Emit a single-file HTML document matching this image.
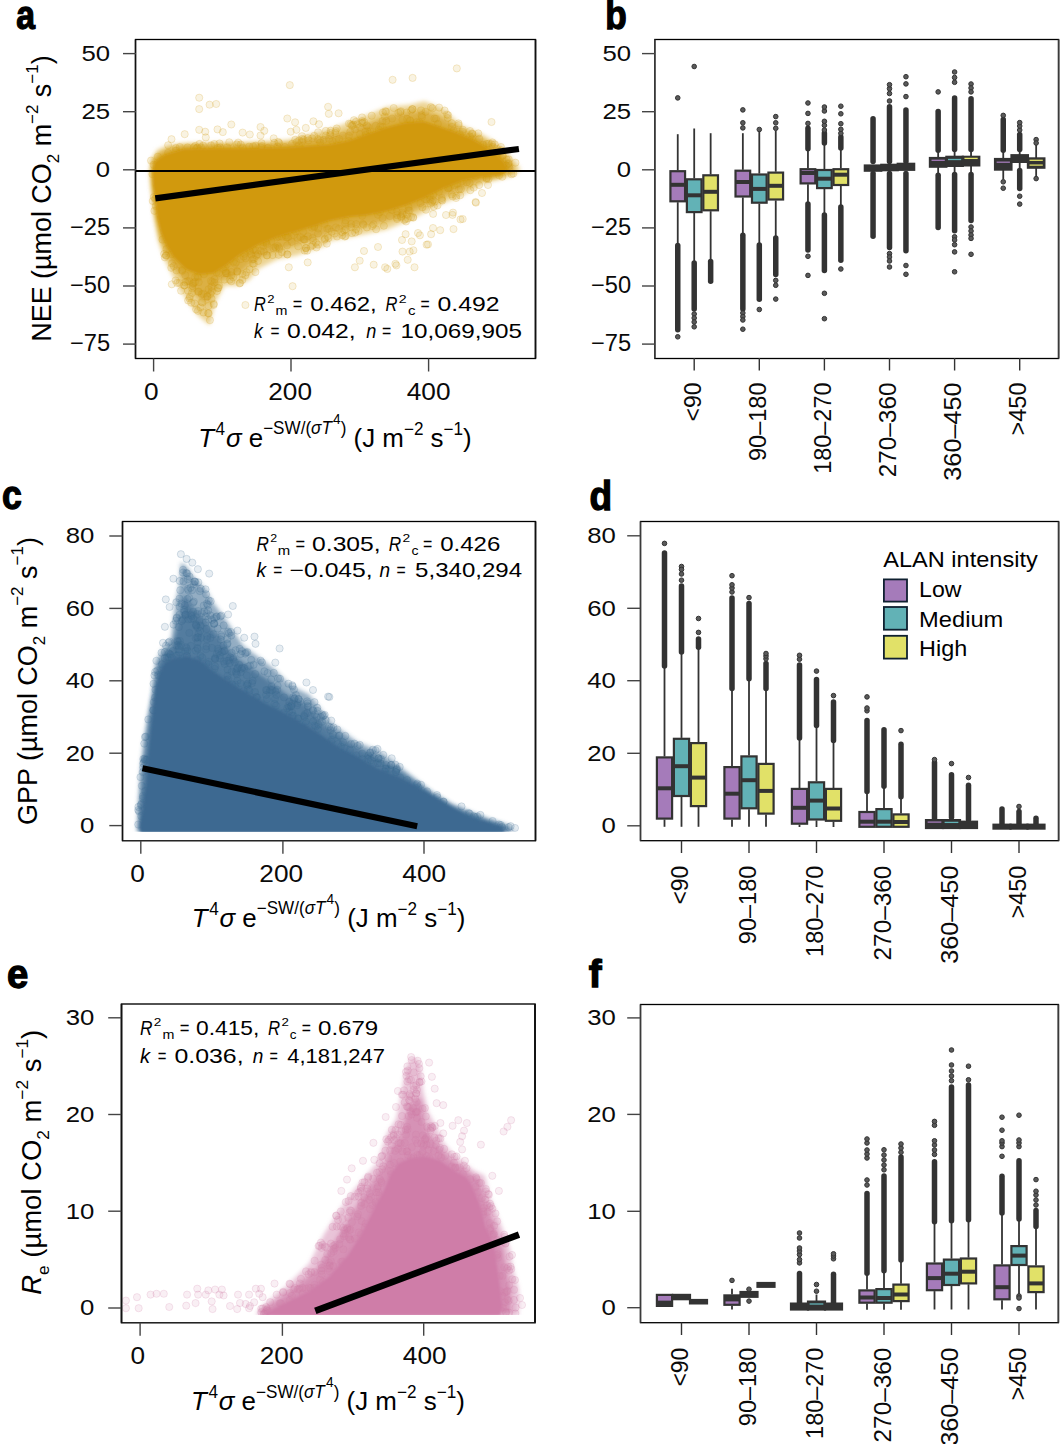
<!DOCTYPE html><html><head><meta charset="utf-8"><style>html,body{margin:0;padding:0;background:#fff;}svg{display:block;} text{font-family:"Liberation Sans",sans-serif;fill:#000;} .tk{fill:#0a0a0a;}</style></head><body><svg width="1060" height="1444" viewBox="0 0 1060 1444"><rect width="1060" height="1444" fill="#fff"/><defs>
<filter id="blur1" x="-5%" y="-5%" width="110%" height="110%"><feGaussianBlur stdDeviation="0.8"/></filter>
<filter id="blur2" x="-5%" y="-5%" width="110%" height="110%"><feGaussianBlur stdDeviation="2"/></filter>
<filter id="blur3" x="-10%" y="-10%" width="120%" height="120%"><feGaussianBlur stdDeviation="3"/></filter>
<clipPath id="ca"><rect x="136" y="39.3" width="399.5" height="318.7"/></clipPath>
<clipPath id="cc"><rect x="122.3" y="521.2" width="412.7" height="310.5"/></clipPath>
<clipPath id="ce"><rect x="121.2" y="1003.5" width="412.7" height="311.6"/></clipPath>
</defs>
<g clip-path="url(#ca)">
<polygon points="150,172 151,160 157,150 168,145 185,143 211.5,142.5 249.2,142 287,140 330,129 348.9,122.1 373.4,112.6 386.6,107 409.2,105.1 424.3,101.3 443.2,108.9 462.1,125.8 480.9,133.4 499.8,144.7 514.9,161.7 520.6,169.2 514.9,174.9 480.9,184.3 462.1,195.7 443.2,203.2 424.3,212.6 405.5,222.1 386.6,229.6 367.7,233.4 348.9,237.2 330,240.9 324.7,246 296.4,255.5 277.5,259.2 258.6,268.7 249.2,280 237.9,285.7 224.7,285.7 215.2,302.6 209.6,325.3 198.3,315.8 186.9,300.8 173.7,278.1 164.3,259.2 158,240 154,215 152,195" fill="#d1990f" fill-opacity="0.42" filter="url(#blur2)"/>
<polygon points="151.26,172 152.64,160.8 159.06,152.93 169.07,148.54 185.09,145.75 211.5,145.1 249.27,144.81 287.22,143.22 331.27,135.34 351.37,129.13 375.98,119.98 388.64,115.19 409.56,112.53 424.3,110.04 440.73,116.23 460.72,129.24 478.91,136.91 497.46,148.19 511.12,163.61 515.06,169.2 511.75,172.51 480.29,181.27 459.93,190.22 440.67,198.12 422.1,207.15 403.53,215.56 385.11,222 366.91,225.54 347.21,228.8 327.32,233.13 321.6,237 293.54,246.03 274.21,251.03 254.24,260.82 242.64,271.3 232.65,277.16 220.97,279.64 214.28,290.17 208.05,303.55 198.59,298.24 191.33,289.29 178.19,273.61 167.64,257.11 160.33,239.01 155.42,214.86 153.29,194.79" fill="#d1990f" fill-opacity="0.62" filter="url(#blur2)"/>
<g fill="#d1990f" fill-opacity="0.12" stroke="#d1990f" stroke-opacity="0.22" stroke-width="0.9">
<circle cx="286.07" cy="237.41" r="3.6"/>
<circle cx="382.9" cy="112.5" r="3.6"/>
<circle cx="400.2" cy="112.16" r="3.6"/>
<circle cx="197.48" cy="147.64" r="3.6"/>
<circle cx="179.51" cy="283.04" r="3.6"/>
<circle cx="303.2" cy="231.85" r="3.6"/>
<circle cx="385.34" cy="111.24" r="3.6"/>
<circle cx="285.76" cy="235.48" r="3.6"/>
<circle cx="410.29" cy="120.93" r="3.6"/>
<circle cx="469.91" cy="136.57" r="3.6"/>
<circle cx="273.48" cy="248.15" r="3.6"/>
<circle cx="497.11" cy="148.83" r="3.6"/>
<circle cx="397.01" cy="217.71" r="3.6"/>
<circle cx="396.97" cy="219.09" r="3.6"/>
<circle cx="279.21" cy="143.08" r="3.6"/>
<circle cx="210.86" cy="280.97" r="3.6"/>
<circle cx="279" cy="247.38" r="3.6"/>
<circle cx="287.32" cy="237.53" r="3.6"/>
<circle cx="192.62" cy="285.97" r="3.6"/>
<circle cx="439.15" cy="107.58" r="3.6"/>
<circle cx="479.35" cy="138.86" r="3.6"/>
<circle cx="191.92" cy="293.09" r="3.6"/>
<circle cx="416.76" cy="122.06" r="3.6"/>
<circle cx="401.12" cy="217.27" r="3.6"/>
<circle cx="182.29" cy="270.87" r="3.6"/>
<circle cx="258.01" cy="260.94" r="3.6"/>
<circle cx="327.57" cy="236.27" r="3.6"/>
<circle cx="470.33" cy="190.16" r="3.6"/>
<circle cx="234.89" cy="263.8" r="3.6"/>
<circle cx="421.99" cy="117.23" r="3.6"/>
<circle cx="181.07" cy="290.77" r="3.6"/>
<circle cx="352.09" cy="124.95" r="3.6"/>
<circle cx="250.02" cy="251.68" r="3.6"/>
<circle cx="257.89" cy="254.11" r="3.6"/>
<circle cx="246.55" cy="272.27" r="3.6"/>
<circle cx="348.99" cy="123.58" r="3.6"/>
<circle cx="213.81" cy="303.76" r="3.6"/>
<circle cx="372.19" cy="226.04" r="3.6"/>
<circle cx="171.97" cy="263.37" r="3.6"/>
<circle cx="370.1" cy="131.28" r="3.6"/>
<circle cx="296.84" cy="142.22" r="3.6"/>
<circle cx="345.75" cy="229.16" r="3.6"/>
<circle cx="355.22" cy="232.57" r="3.6"/>
<circle cx="396.61" cy="211.41" r="3.6"/>
<circle cx="305.81" cy="247.92" r="3.6"/>
<circle cx="320.15" cy="142.61" r="3.6"/>
<circle cx="412.32" cy="109.16" r="3.6"/>
<circle cx="325.68" cy="135.52" r="3.6"/>
<circle cx="166.42" cy="249.1" r="3.6"/>
<circle cx="486.85" cy="143.86" r="3.6"/>
<circle cx="272.52" cy="255.07" r="3.6"/>
<circle cx="330.42" cy="133" r="3.6"/>
<circle cx="402.44" cy="119.82" r="3.6"/>
<circle cx="361.38" cy="122.85" r="3.6"/>
<circle cx="348.63" cy="140.95" r="3.6"/>
<circle cx="458.54" cy="123.41" r="3.6"/>
<circle cx="277.01" cy="237.22" r="3.6"/>
<circle cx="421.62" cy="115.22" r="3.6"/>
<circle cx="438.83" cy="191.72" r="3.6"/>
<circle cx="204.01" cy="274.25" r="3.6"/>
<circle cx="345.12" cy="223.06" r="3.6"/>
<circle cx="348.87" cy="135.75" r="3.6"/>
<circle cx="437.52" cy="205.35" r="3.6"/>
<circle cx="239.6" cy="283.39" r="3.6"/>
<circle cx="363.51" cy="224.84" r="3.6"/>
<circle cx="176.01" cy="150.6" r="3.6"/>
<circle cx="200.6" cy="307.37" r="3.6"/>
<circle cx="217.78" cy="288.16" r="3.6"/>
<circle cx="405.52" cy="219.15" r="3.6"/>
<circle cx="436.02" cy="118.77" r="3.6"/>
<circle cx="281.71" cy="236.74" r="3.6"/>
<circle cx="275.11" cy="247" r="3.6"/>
<circle cx="313.17" cy="240.63" r="3.6"/>
<circle cx="284.8" cy="147.1" r="3.6"/>
<circle cx="367.26" cy="131.22" r="3.6"/>
<circle cx="378.72" cy="129.67" r="3.6"/>
<circle cx="479.16" cy="185.05" r="3.6"/>
<circle cx="344.28" cy="230.45" r="3.6"/>
<circle cx="245.7" cy="258.34" r="3.6"/>
<circle cx="331.58" cy="231.63" r="3.6"/>
<circle cx="328.91" cy="138.76" r="3.6"/>
<circle cx="327.26" cy="228.88" r="3.6"/>
<circle cx="240.59" cy="259.15" r="3.6"/>
<circle cx="364.22" cy="122.1" r="3.6"/>
<circle cx="362.31" cy="215.8" r="3.6"/>
<circle cx="352.01" cy="233.17" r="3.6"/>
<circle cx="226.02" cy="273.19" r="3.6"/>
<circle cx="494.72" cy="144.32" r="3.6"/>
<circle cx="425.96" cy="209.73" r="3.6"/>
<circle cx="252.59" cy="259.38" r="3.6"/>
<circle cx="449.7" cy="187.43" r="3.6"/>
<circle cx="362.88" cy="223.86" r="3.6"/>
<circle cx="274.35" cy="142.88" r="3.6"/>
<circle cx="164.15" cy="253.95" r="3.6"/>
<circle cx="384.72" cy="116.48" r="3.6"/>
<circle cx="401.12" cy="216.19" r="3.6"/>
<circle cx="171.86" cy="254.19" r="3.6"/>
<circle cx="168.15" cy="152.88" r="3.6"/>
<circle cx="185.29" cy="275.07" r="3.6"/>
<circle cx="492.43" cy="142.4" r="3.6"/>
<circle cx="198.2" cy="277.47" r="3.6"/>
<circle cx="200.97" cy="147.31" r="3.6"/>
<circle cx="460.17" cy="195.24" r="3.6"/>
<circle cx="515.46" cy="162.7" r="3.6"/>
<circle cx="501" cy="150.51" r="3.6"/>
<circle cx="260.81" cy="147.37" r="3.6"/>
<circle cx="351.32" cy="227.25" r="3.6"/>
<circle cx="240.78" cy="144.56" r="3.6"/>
<circle cx="357.2" cy="124.33" r="3.6"/>
<circle cx="263.8" cy="251.54" r="3.6"/>
<circle cx="210.45" cy="293.95" r="3.6"/>
<circle cx="189.41" cy="298.29" r="3.6"/>
<circle cx="212.28" cy="281.79" r="3.6"/>
<circle cx="431.91" cy="202.05" r="3.6"/>
<circle cx="500.94" cy="147.02" r="3.6"/>
<circle cx="368.18" cy="127.07" r="3.6"/>
<circle cx="208.45" cy="305.96" r="3.6"/>
<circle cx="278.91" cy="236.68" r="3.6"/>
<circle cx="379.82" cy="212.19" r="3.6"/>
<circle cx="358.57" cy="231.06" r="3.6"/>
<circle cx="318.27" cy="228.51" r="3.6"/>
<circle cx="255.66" cy="250.35" r="3.6"/>
<circle cx="236.3" cy="262.18" r="3.6"/>
<circle cx="386.21" cy="111.69" r="3.6"/>
<circle cx="365.36" cy="131.86" r="3.6"/>
<circle cx="214.29" cy="282.54" r="3.6"/>
<circle cx="182.05" cy="269.94" r="3.6"/>
<circle cx="391.6" cy="209.97" r="3.6"/>
<circle cx="208.53" cy="289.25" r="3.6"/>
<circle cx="225.78" cy="272.99" r="3.6"/>
<circle cx="310.89" cy="246.46" r="3.6"/>
<circle cx="226.83" cy="264.43" r="3.6"/>
<circle cx="380.44" cy="126.39" r="3.6"/>
<circle cx="207.14" cy="296.33" r="3.6"/>
<circle cx="437.92" cy="124.02" r="3.6"/>
<circle cx="231.29" cy="281.25" r="3.6"/>
<circle cx="224.43" cy="279.57" r="3.6"/>
<circle cx="335.33" cy="132.93" r="3.6"/>
<circle cx="508.72" cy="159.35" r="3.6"/>
<circle cx="193.51" cy="282.91" r="3.6"/>
<circle cx="300.59" cy="237" r="3.6"/>
<circle cx="223.3" cy="268.96" r="3.6"/>
<circle cx="342.08" cy="232.07" r="3.6"/>
<circle cx="453.51" cy="130.58" r="3.6"/>
<circle cx="312.06" cy="227.72" r="3.6"/>
<circle cx="287.25" cy="254.33" r="3.6"/>
<circle cx="279.38" cy="248.92" r="3.6"/>
<circle cx="263.2" cy="245.88" r="3.6"/>
<circle cx="189.96" cy="296.53" r="3.6"/>
<circle cx="211.87" cy="291.32" r="3.6"/>
<circle cx="457.25" cy="183.82" r="3.6"/>
<circle cx="382.51" cy="218.03" r="3.6"/>
<circle cx="218.55" cy="287.77" r="3.6"/>
<circle cx="362.66" cy="122.75" r="3.6"/>
<circle cx="328.79" cy="228.72" r="3.6"/>
<circle cx="261.57" cy="143.19" r="3.6"/>
<circle cx="448.17" cy="115.29" r="3.6"/>
<circle cx="411.08" cy="110.5" r="3.6"/>
<circle cx="488.55" cy="178.9" r="3.6"/>
<circle cx="193.92" cy="147.31" r="3.6"/>
<circle cx="277.41" cy="146.61" r="3.6"/>
<circle cx="237.31" cy="271.18" r="3.6"/>
<circle cx="324.57" cy="239.61" r="3.6"/>
<circle cx="155.28" cy="198.73" r="3.6"/>
<circle cx="242.44" cy="274.06" r="3.6"/>
<circle cx="236.73" cy="144.46" r="3.6"/>
<circle cx="287.13" cy="245.36" r="3.6"/>
<circle cx="154.41" cy="210.85" r="3.6"/>
<circle cx="307.14" cy="250.72" r="3.6"/>
<circle cx="458.91" cy="189.37" r="3.6"/>
<circle cx="318.02" cy="244.63" r="3.6"/>
<circle cx="336.14" cy="139.88" r="3.6"/>
<circle cx="278.26" cy="141.96" r="3.6"/>
<circle cx="268.13" cy="147.55" r="3.6"/>
<circle cx="337.02" cy="236.48" r="3.6"/>
<circle cx="188.11" cy="300.45" r="3.6"/>
<circle cx="406.03" cy="221.49" r="3.6"/>
<circle cx="451.78" cy="126.82" r="3.6"/>
<circle cx="409.75" cy="120" r="3.6"/>
<circle cx="157.85" cy="156.67" r="3.6"/>
<circle cx="458.65" cy="125.17" r="3.6"/>
<circle cx="263.32" cy="242.37" r="3.6"/>
<circle cx="288.46" cy="237.04" r="3.6"/>
<circle cx="195.13" cy="277.23" r="3.6"/>
<circle cx="151.03" cy="160.56" r="3.6"/>
<circle cx="420.38" cy="203.09" r="3.6"/>
<circle cx="350.53" cy="124.13" r="3.6"/>
<circle cx="292.1" cy="143.82" r="3.6"/>
<circle cx="430.91" cy="107.22" r="3.6"/>
<circle cx="224.87" cy="267.06" r="3.6"/>
<circle cx="299.13" cy="140.44" r="3.6"/>
<circle cx="249.05" cy="146.69" r="3.6"/>
<circle cx="499.08" cy="175.34" r="3.6"/>
<circle cx="386.35" cy="120.87" r="3.6"/>
<circle cx="325.84" cy="130.9" r="3.6"/>
<circle cx="412.43" cy="109.22" r="3.6"/>
<circle cx="469.59" cy="182.89" r="3.6"/>
<circle cx="508.47" cy="163.19" r="3.6"/>
<circle cx="491.61" cy="144.1" r="3.6"/>
<circle cx="382.52" cy="121.11" r="3.6"/>
<circle cx="317.93" cy="233.43" r="3.6"/>
<circle cx="218.87" cy="273.13" r="3.6"/>
<circle cx="398.34" cy="112.89" r="3.6"/>
<circle cx="217.74" cy="147.92" r="3.6"/>
<circle cx="203.35" cy="293.87" r="3.6"/>
<circle cx="244.62" cy="253.75" r="3.6"/>
<circle cx="432.87" cy="199.89" r="3.6"/>
<circle cx="371.74" cy="115.69" r="3.6"/>
<circle cx="253.21" cy="249.58" r="3.6"/>
<circle cx="312.22" cy="138.38" r="3.6"/>
<circle cx="336.74" cy="128.46" r="3.6"/>
<circle cx="184.05" cy="285.37" r="3.6"/>
<circle cx="456.07" cy="198" r="3.6"/>
<circle cx="287.45" cy="254.52" r="3.6"/>
<circle cx="312.57" cy="238.02" r="3.6"/>
<circle cx="189.2" cy="281.17" r="3.6"/>
<circle cx="267.17" cy="255.34" r="3.6"/>
<circle cx="301.99" cy="136.18" r="3.6"/>
<circle cx="238.18" cy="142.58" r="3.6"/>
<circle cx="497.04" cy="154.81" r="3.6"/>
<circle cx="237.24" cy="271.68" r="3.6"/>
<circle cx="195.23" cy="145.87" r="3.6"/>
<circle cx="191.25" cy="302.68" r="3.6"/>
<circle cx="446.95" cy="114.48" r="3.6"/>
<circle cx="242.38" cy="279.88" r="3.6"/>
<circle cx="393.68" cy="108.04" r="3.6"/>
<circle cx="253.86" cy="263.81" r="3.6"/>
<circle cx="360.1" cy="127.35" r="3.6"/>
<circle cx="325.03" cy="238.52" r="3.6"/>
<circle cx="196.1" cy="309.37" r="3.6"/>
<circle cx="255.61" cy="145.69" r="3.6"/>
<circle cx="249.5" cy="269.32" r="3.6"/>
<circle cx="281.9" cy="252.32" r="3.6"/>
<circle cx="351.13" cy="223.84" r="3.6"/>
<circle cx="486.61" cy="178.83" r="3.6"/>
<circle cx="192.18" cy="288.43" r="3.6"/>
<circle cx="217.06" cy="291.04" r="3.6"/>
<circle cx="298.19" cy="246.26" r="3.6"/>
<circle cx="413.04" cy="217.07" r="3.6"/>
<circle cx="508.69" cy="166.35" r="3.6"/>
<circle cx="197.98" cy="310.82" r="3.6"/>
<circle cx="304.35" cy="239.34" r="3.6"/>
<circle cx="462.59" cy="131.75" r="3.6"/>
<circle cx="454.33" cy="185.15" r="3.6"/>
<circle cx="201.77" cy="294.16" r="3.6"/>
<circle cx="249.75" cy="250.63" r="3.6"/>
<circle cx="188.05" cy="290.76" r="3.6"/>
<circle cx="409.58" cy="210.56" r="3.6"/>
<circle cx="173.77" cy="266.08" r="3.6"/>
<circle cx="162.44" cy="239.58" r="3.6"/>
<circle cx="231.18" cy="275.44" r="3.6"/>
<circle cx="470.01" cy="130.98" r="3.6"/>
<circle cx="196.4" cy="148.38" r="3.6"/>
<circle cx="301.93" cy="141.88" r="3.6"/>
<circle cx="176.47" cy="270.36" r="3.6"/>
<circle cx="392.08" cy="118.61" r="3.6"/>
<circle cx="231.37" cy="271.93" r="3.6"/>
<circle cx="402.9" cy="214.45" r="3.6"/>
<circle cx="352.16" cy="125.94" r="3.6"/>
<circle cx="216.47" cy="272.48" r="3.6"/>
<circle cx="424.71" cy="199.24" r="3.6"/>
<circle cx="307.71" cy="138.11" r="3.6"/>
<circle cx="382.68" cy="127.09" r="3.6"/>
<circle cx="197.45" cy="276.44" r="3.6"/>
<circle cx="253.88" cy="258.96" r="3.6"/>
<circle cx="271.24" cy="241.27" r="3.6"/>
<circle cx="389.8" cy="215.99" r="3.6"/>
<circle cx="441.83" cy="198.02" r="3.6"/>
<circle cx="413.23" cy="217.75" r="3.6"/>
<circle cx="447.65" cy="118.02" r="3.6"/>
<circle cx="194.84" cy="303.45" r="3.6"/>
<circle cx="255.42" cy="272.07" r="3.6"/>
<circle cx="459.76" cy="134.2" r="3.6"/>
<circle cx="404.19" cy="220.02" r="3.6"/>
<circle cx="452.63" cy="196.39" r="3.6"/>
<circle cx="501.38" cy="150.29" r="3.6"/>
<circle cx="153.81" cy="197.06" r="3.6"/>
<circle cx="356.18" cy="224.03" r="3.6"/>
<circle cx="451.72" cy="194.43" r="3.6"/>
<circle cx="338.91" cy="228.68" r="3.6"/>
<circle cx="314.13" cy="226.91" r="3.6"/>
<circle cx="408.36" cy="210.45" r="3.6"/>
<circle cx="432.53" cy="108.26" r="3.6"/>
<circle cx="326.84" cy="243.65" r="3.6"/>
<circle cx="342.96" cy="135.6" r="3.6"/>
<circle cx="266.96" cy="244.36" r="3.6"/>
<circle cx="502.29" cy="176.74" r="3.6"/>
<circle cx="203.15" cy="145.59" r="3.6"/>
<circle cx="448.05" cy="188.13" r="3.6"/>
<circle cx="266" cy="241.7" r="3.6"/>
<circle cx="225.78" cy="271.31" r="3.6"/>
<circle cx="305.97" cy="248.18" r="3.6"/>
<circle cx="242.94" cy="148.11" r="3.6"/>
<circle cx="267.55" cy="148.17" r="3.6"/>
<circle cx="245.38" cy="275.26" r="3.6"/>
<circle cx="208.67" cy="313.35" r="3.6"/>
<circle cx="307.76" cy="236.34" r="3.6"/>
<circle cx="229.74" cy="279.66" r="3.6"/>
<circle cx="211.44" cy="286.6" r="3.6"/>
<circle cx="184.58" cy="285.38" r="3.6"/>
<circle cx="278.62" cy="254.81" r="3.6"/>
<circle cx="422.37" cy="207.28" r="3.6"/>
<circle cx="502.33" cy="155.76" r="3.6"/>
<circle cx="419.49" cy="122.31" r="3.6"/>
<circle cx="330.27" cy="135.19" r="3.6"/>
<circle cx="483.38" cy="144.92" r="3.6"/>
<circle cx="466.76" cy="182.41" r="3.6"/>
<circle cx="402.2" cy="212.63" r="3.6"/>
<circle cx="240.11" cy="282.87" r="3.6"/>
<circle cx="366.79" cy="125.48" r="3.6"/>
<circle cx="461.79" cy="181.22" r="3.6"/>
<circle cx="192.84" cy="283.77" r="3.6"/>
<circle cx="208.11" cy="313.08" r="3.6"/>
<circle cx="426.61" cy="199.65" r="3.6"/>
<circle cx="214.39" cy="144.05" r="3.6"/>
<circle cx="209.96" cy="320.2" r="3.6"/>
<circle cx="433.84" cy="206.61" r="3.6"/>
<circle cx="187.2" cy="281.25" r="3.6"/>
<circle cx="509.29" cy="167.64" r="3.6"/>
<circle cx="266.81" cy="255.38" r="3.6"/>
<circle cx="473.76" cy="187.61" r="3.6"/>
<circle cx="400.76" cy="111.27" r="3.6"/>
<circle cx="207.43" cy="296.6" r="3.6"/>
<circle cx="451.54" cy="123.11" r="3.6"/>
<circle cx="277.57" cy="245.76" r="3.6"/>
<circle cx="211.55" cy="298.72" r="3.6"/>
<circle cx="220.21" cy="147.44" r="3.6"/>
<circle cx="295.24" cy="139.77" r="3.6"/>
<circle cx="253.07" cy="146.43" r="3.6"/>
<circle cx="472.42" cy="134.07" r="3.6"/>
<circle cx="168.12" cy="145.26" r="3.6"/>
<circle cx="243.62" cy="256.56" r="3.6"/>
<circle cx="214.5" cy="279.32" r="3.6"/>
<circle cx="187.55" cy="147.46" r="3.6"/>
<circle cx="506.27" cy="165.86" r="3.6"/>
<circle cx="314.37" cy="226.12" r="3.6"/>
<circle cx="251.36" cy="254.44" r="3.6"/>
<circle cx="486.5" cy="177.88" r="3.6"/>
<circle cx="462.85" cy="129.71" r="3.6"/>
<circle cx="488.72" cy="143.63" r="3.6"/>
<circle cx="198.23" cy="291.81" r="3.6"/>
<circle cx="471.99" cy="138.83" r="3.6"/>
<circle cx="353.95" cy="120.21" r="3.6"/>
<circle cx="211.08" cy="145.47" r="3.6"/>
<circle cx="429.96" cy="199.72" r="3.6"/>
<circle cx="202.39" cy="302.55" r="3.6"/>
<circle cx="155.84" cy="205.98" r="3.6"/>
<circle cx="297.31" cy="237.84" r="3.6"/>
<circle cx="350.31" cy="131.81" r="3.6"/>
<circle cx="260.66" cy="250.74" r="3.6"/>
<circle cx="295.67" cy="231.42" r="3.6"/>
<circle cx="407.21" cy="119.01" r="3.6"/>
<circle cx="318.06" cy="139.48" r="3.6"/>
<circle cx="330.6" cy="130.7" r="3.6"/>
<circle cx="219.53" cy="143.46" r="3.6"/>
<circle cx="303.39" cy="239.25" r="3.6"/>
<circle cx="362.2" cy="121.07" r="3.6"/>
<circle cx="335.64" cy="131.01" r="3.6"/>
<circle cx="460.86" cy="189.03" r="3.6"/>
<circle cx="164.79" cy="257.31" r="3.6"/>
<circle cx="513.25" cy="173.57" r="3.6"/>
<circle cx="335.91" cy="227.43" r="3.6"/>
<circle cx="478.27" cy="133.4" r="3.6"/>
<circle cx="323.53" cy="139.9" r="3.6"/>
<circle cx="376.09" cy="229.19" r="3.6"/>
<circle cx="198.72" cy="282.14" r="3.6"/>
<circle cx="203.35" cy="312.42" r="3.6"/>
<circle cx="332.36" cy="140.96" r="3.6"/>
<circle cx="508.21" cy="164.1" r="3.6"/>
<circle cx="425.59" cy="111.81" r="3.6"/>
<circle cx="275.92" cy="247.95" r="3.6"/>
<circle cx="166.17" cy="255.28" r="3.6"/>
<circle cx="177.15" cy="282.97" r="3.6"/>
<circle cx="506.65" cy="159.52" r="3.6"/>
<circle cx="406.59" cy="112.53" r="3.6"/>
<circle cx="345.64" cy="220.47" r="3.6"/>
<circle cx="304.92" cy="239.68" r="3.6"/>
<circle cx="293.79" cy="235.07" r="3.6"/>
<circle cx="266.26" cy="243.05" r="3.6"/>
<circle cx="233.52" cy="261.78" r="3.6"/>
<circle cx="377.91" cy="214.83" r="3.6"/>
<circle cx="324.63" cy="224.02" r="3.6"/>
<circle cx="314.18" cy="135.8" r="3.6"/>
<circle cx="360.07" cy="134.42" r="3.6"/>
<circle cx="362.04" cy="117.44" r="3.6"/>
<circle cx="492.71" cy="146.98" r="3.6"/>
<circle cx="165.98" cy="255.61" r="3.6"/>
<circle cx="441.7" cy="199.66" r="3.6"/>
<circle cx="291.69" cy="241.9" r="3.6"/>
<circle cx="199.41" cy="143.97" r="3.6"/>
<circle cx="355.05" cy="129.39" r="3.6"/>
<circle cx="152.72" cy="200.99" r="3.6"/>
<circle cx="429.89" cy="195.72" r="3.6"/>
<circle cx="308.37" cy="140.42" r="3.6"/>
<circle cx="312.71" cy="245.07" r="3.6"/>
<circle cx="152.43" cy="174.2" r="3.6"/>
<circle cx="444.58" cy="110.52" r="3.6"/>
<circle cx="261.85" cy="146.05" r="3.6"/>
<circle cx="366.94" cy="227.41" r="3.6"/>
<circle cx="406.64" cy="214.27" r="3.6"/>
<circle cx="373.53" cy="224.32" r="3.6"/>
<circle cx="153.6" cy="164.81" r="3.6"/>
<circle cx="233.2" cy="277.33" r="3.6"/>
<circle cx="201.66" cy="301.88" r="3.6"/>
<circle cx="456.21" cy="195.83" r="3.6"/>
<circle cx="185.28" cy="282.21" r="3.6"/>
<circle cx="334.55" cy="233.52" r="3.6"/>
<circle cx="175.78" cy="148.06" r="3.6"/>
<circle cx="256.26" cy="255.69" r="3.6"/>
<circle cx="344.79" cy="236.57" r="3.6"/>
<circle cx="397.29" cy="215.2" r="3.6"/>
<circle cx="198.79" cy="291.49" r="3.6"/>
<circle cx="355.88" cy="121.81" r="3.6"/>
<circle cx="304.71" cy="250.63" r="3.6"/>
<circle cx="433.3" cy="194.45" r="3.6"/>
<circle cx="252.8" cy="263.54" r="3.6"/>
<circle cx="471.97" cy="133.42" r="3.6"/>
<circle cx="302.27" cy="138.97" r="3.6"/>
<circle cx="345.6" cy="235.9" r="3.6"/>
<circle cx="430.41" cy="203.57" r="3.6"/>
<circle cx="408.52" cy="207.04" r="3.6"/>
<circle cx="227.12" cy="147.36" r="3.6"/>
<circle cx="511.52" cy="174.17" r="3.6"/>
<circle cx="315.94" cy="242.65" r="3.6"/>
<circle cx="375.72" cy="125.81" r="3.6"/>
<circle cx="303.66" cy="139.75" r="3.6"/>
<circle cx="319.82" cy="140.11" r="3.6"/>
<circle cx="195.11" cy="281.7" r="3.6"/>
<circle cx="227.11" cy="273.07" r="3.6"/>
<circle cx="219.08" cy="285.43" r="3.6"/>
<circle cx="179.72" cy="147" r="3.6"/>
<circle cx="299.26" cy="145.78" r="3.6"/>
<circle cx="328.49" cy="238.01" r="3.6"/>
<circle cx="434.43" cy="118.46" r="3.6"/>
<circle cx="365.61" cy="134.81" r="3.6"/>
<circle cx="339.16" cy="139.01" r="3.6"/>
<circle cx="383.88" cy="225.77" r="3.6"/>
<circle cx="502.83" cy="155.51" r="3.6"/>
<circle cx="448.25" cy="188.01" r="3.6"/>
<circle cx="342.24" cy="235.17" r="3.6"/>
<circle cx="213.68" cy="304.87" r="3.6"/>
<circle cx="407.92" cy="218.52" r="3.6"/>
<circle cx="316.48" cy="247.47" r="3.6"/>
<circle cx="229.27" cy="142.27" r="3.6"/>
<circle cx="171.27" cy="267.81" r="3.6"/>
<circle cx="421.07" cy="110.4" r="3.6"/>
<circle cx="356.17" cy="229.1" r="3.6"/>
<circle cx="411.16" cy="217.12" r="3.6"/>
<circle cx="434.69" cy="201.68" r="3.6"/>
<circle cx="353.5" cy="124.61" r="3.6"/>
<circle cx="199.2" cy="97.7" r="3.6"/>
<circle cx="199.2" cy="109.1" r="3.6"/>
<circle cx="209.6" cy="104.7" r="3.6"/>
<circle cx="216.2" cy="104" r="3.6"/>
<circle cx="289.8" cy="85.1" r="3.6"/>
<circle cx="231.3" cy="124.5" r="3.6"/>
<circle cx="328.1" cy="106.8" r="3.6"/>
<circle cx="328.8" cy="113.8" r="3.6"/>
<circle cx="287.3" cy="118.5" r="3.6"/>
<circle cx="295.1" cy="122.3" r="3.6"/>
<circle cx="313.4" cy="121.3" r="3.6"/>
<circle cx="319" cy="124.2" r="3.6"/>
<circle cx="318.1" cy="132.3" r="3.6"/>
<circle cx="305.8" cy="127.9" r="3.6"/>
<circle cx="260.5" cy="127" r="3.6"/>
<circle cx="264.3" cy="130.8" r="3.6"/>
<circle cx="242.6" cy="132.6" r="3.6"/>
<circle cx="249.8" cy="134.5" r="3.6"/>
<circle cx="217.5" cy="129.4" r="3.6"/>
<circle cx="222.8" cy="132.1" r="3.6"/>
<circle cx="199.2" cy="129.8" r="3.6"/>
<circle cx="205.2" cy="131.7" r="3.6"/>
<circle cx="184.7" cy="134.2" r="3.6"/>
<circle cx="171.5" cy="139.2" r="3.6"/>
<circle cx="205.8" cy="137.4" r="3.6"/>
<circle cx="290.7" cy="131.7" r="3.6"/>
<circle cx="296.4" cy="129.8" r="3.6"/>
<circle cx="260.5" cy="135.5" r="3.6"/>
<circle cx="273.7" cy="138.3" r="3.6"/>
<circle cx="392.6" cy="79.8" r="3.6"/>
<circle cx="412.6" cy="77.9" r="3.6"/>
<circle cx="456.8" cy="68.4" r="3.6"/>
<circle cx="338.6" cy="113.3" r="3.6"/>
<circle cx="491.5" cy="122" r="3.6"/>
<circle cx="475.6" cy="202" r="3.6"/>
<circle cx="453" cy="212.6" r="3.6"/>
<circle cx="460.5" cy="219.4" r="3.6"/>
<circle cx="426.6" cy="244.7" r="3.6"/>
<circle cx="413.4" cy="250.3" r="3.6"/>
<circle cx="407.7" cy="259.8" r="3.6"/>
<circle cx="354.9" cy="267.3" r="3.6"/>
<circle cx="373.7" cy="264.7" r="3.6"/>
<circle cx="385.1" cy="267.3" r="3.6"/>
<circle cx="396.4" cy="265.4" r="3.6"/>
<circle cx="414.5" cy="267.3" r="3.6"/>
<circle cx="307.7" cy="262.4" r="3.6"/>
<circle cx="288.8" cy="267.3" r="3.6"/>
<circle cx="292.6" cy="286.2" r="3.6"/>
<circle cx="171.8" cy="284.3" r="3.6"/>
<circle cx="175.6" cy="280.5" r="3.6"/>
<circle cx="245.4" cy="305" r="3.6"/>
<circle cx="481.5" cy="163" r="3.6"/>
<circle cx="476" cy="176" r="3.6"/>
<circle cx="503" cy="170" r="3.6"/>
<circle cx="482" cy="193" r="3.6"/>
<circle cx="488" cy="185" r="3.6"/>
<circle cx="446" cy="215" r="3.6"/>
<circle cx="433" cy="228" r="3.6"/>
<circle cx="418" cy="233" r="3.6"/>
<circle cx="402" cy="240" r="3.6"/>
<circle cx="378" cy="247" r="3.6"/>
<circle cx="364" cy="251" r="3.6"/>
<circle cx="405.6" cy="234.2" r="3.6"/>
<circle cx="411.7" cy="241.4" r="3.6"/>
<circle cx="402.5" cy="251.6" r="3.6"/>
<circle cx="409.7" cy="251.6" r="3.6"/>
<circle cx="428" cy="244.4" r="3.6"/>
<circle cx="431.1" cy="234.2" r="3.6"/>
<circle cx="440.2" cy="230.2" r="3.6"/>
<circle cx="452.5" cy="214.9" r="3.6"/>
<circle cx="462.7" cy="219" r="3.6"/>
<circle cx="453.5" cy="229.1" r="3.6"/>
<circle cx="475.9" cy="202.7" r="3.6"/>
<circle cx="442.3" cy="200.6" r="3.6"/>
<circle cx="433.1" cy="213.9" r="3.6"/>
<circle cx="419.9" cy="235.3" r="3.6"/>
<circle cx="395.4" cy="263.8" r="3.6"/>
<circle cx="387.3" cy="268.9" r="3.6"/>
<circle cx="359.7" cy="260.7" r="3.6"/>
</g>
<polygon points="153,172 154.9,161.9 164.3,155.3 183.2,149.6 211.5,148.7 249.2,148.7 287,147.7 330,144.7 348.9,140.9 367.7,134.3 386.6,127.7 405.5,123 424.3,122.1 435.7,125.8 452.6,131.5 471.5,139.1 484.7,146.6 496,154.2 503.6,161.7 507.4,169.2 499.8,174.9 480.9,176.8 462.1,180.6 443.2,188.1 424.3,197.5 405.5,205.1 386.6,210.8 367.7,214.5 348.9,216.4 330,220.2 315.2,225.3 296.4,230.9 277.5,236.6 258.6,244.2 239.8,254.6 226,265 213,273 199,274 186,269 174,257 167.1,246 161.5,232.8 157.7,217.7 155.8,199 153.5,185" fill="#d1990f" fill-opacity="0.85" filter="url(#blur3)"/>
<polygon points="153,172 154.9,161.9 164.3,155.3 183.2,149.6 211.5,148.7 249.2,148.7 287,147.7 330,144.7 348.9,140.9 367.7,134.3 386.6,127.7 405.5,123 424.3,122.1 435.7,125.8 452.6,131.5 471.5,139.1 484.7,146.6 496,154.2 503.6,161.7 507.4,169.2 499.8,174.9 480.9,176.8 462.1,180.6 443.2,188.1 424.3,197.5 405.5,205.1 386.6,210.8 367.7,214.5 348.9,216.4 330,220.2 315.2,225.3 296.4,230.9 277.5,236.6 258.6,244.2 239.8,254.6 226,265 213,273 199,274 186,269 174,257 167.1,246 161.5,232.8 157.7,217.7 155.8,199 153.5,185" fill="#d1990f" filter="url(#blur1)"/>
</g>
<line x1="135.5" y1="171" x2="535.5" y2="171" stroke="#000" stroke-width="2" stroke-linecap="butt"/>
<line x1="155.3" y1="198.4" x2="518.9" y2="149" stroke="#000" stroke-width="6.2" stroke-linecap="butt"/>
<rect x="135.5" y="39.5" width="400" height="319" fill="none" stroke="#000" stroke-width="1.3"/>
<line x1="135.5" y1="39.5" x2="135.5" y2="358.5" stroke="#111" stroke-width="1.5" stroke-linecap="butt"/>
<line x1="535.5" y1="39.5" x2="535.5" y2="358.5" stroke="#111" stroke-width="1.7" stroke-linecap="butt"/>
<line x1="123" y1="53.6" x2="136" y2="53.6" stroke="#444" stroke-width="1.4" stroke-linecap="butt"/>
<text class="tk" transform="translate(110.1,60.9) scale(1.12,1)" font-size="23" text-anchor="end">50</text>
<line x1="123" y1="111.7" x2="136" y2="111.7" stroke="#444" stroke-width="1.4" stroke-linecap="butt"/>
<text class="tk" transform="translate(110.1,119) scale(1.12,1)" font-size="23" text-anchor="end">25</text>
<line x1="123" y1="169.8" x2="136" y2="169.8" stroke="#444" stroke-width="1.4" stroke-linecap="butt"/>
<text class="tk" transform="translate(110.1,177.1) scale(1.12,1)" font-size="23" text-anchor="end">0</text>
<line x1="123" y1="227.9" x2="136" y2="227.9" stroke="#444" stroke-width="1.4" stroke-linecap="butt"/>
<text class="tk" transform="translate(110.1,235.2) scale(1.03,1)" font-size="23" text-anchor="end">−25</text>
<line x1="123" y1="286" x2="136" y2="286" stroke="#444" stroke-width="1.4" stroke-linecap="butt"/>
<text class="tk" transform="translate(110.1,293.3) scale(1.03,1)" font-size="23" text-anchor="end">−50</text>
<line x1="123" y1="344.1" x2="136" y2="344.1" stroke="#444" stroke-width="1.4" stroke-linecap="butt"/>
<text class="tk" transform="translate(110.1,351.4) scale(1.03,1)" font-size="23" text-anchor="end">−75</text>
<line x1="153.6" y1="358.5" x2="153.6" y2="371.5" stroke="#444" stroke-width="1.4" stroke-linecap="butt"/>
<text class="tk" transform="translate(151.4,400.2) scale(1.14,1)" font-size="23" text-anchor="middle">0</text>
<line x1="291" y1="358.5" x2="291" y2="371.5" stroke="#444" stroke-width="1.4" stroke-linecap="butt"/>
<text class="tk" transform="translate(290.1,400.2) scale(1.14,1)" font-size="23" text-anchor="middle">200</text>
<line x1="428.6" y1="358.5" x2="428.6" y2="371.5" stroke="#444" stroke-width="1.4" stroke-linecap="butt"/>
<text class="tk" transform="translate(428.6,400.2) scale(1.14,1)" font-size="23" text-anchor="middle">400</text>
<rect x="654.8" y="39.5" width="403.8" height="319" fill="none" stroke="#000" stroke-width="1.3"/>
<line x1="654.8" y1="39.5" x2="654.8" y2="358.5" stroke="#3a3a3a" stroke-width="1.5" stroke-linecap="butt"/>
<line x1="1058.6" y1="39.5" x2="1058.6" y2="358.5" stroke="#3a3a3a" stroke-width="1.7" stroke-linecap="butt"/>
<line x1="642" y1="53.6" x2="655" y2="53.6" stroke="#444" stroke-width="1.4" stroke-linecap="butt"/>
<text class="tk" transform="translate(631.1,60.9) scale(1.12,1)" font-size="23" text-anchor="end">50</text>
<line x1="642" y1="111.7" x2="655" y2="111.7" stroke="#444" stroke-width="1.4" stroke-linecap="butt"/>
<text class="tk" transform="translate(631.1,119) scale(1.12,1)" font-size="23" text-anchor="end">25</text>
<line x1="642" y1="169.8" x2="655" y2="169.8" stroke="#444" stroke-width="1.4" stroke-linecap="butt"/>
<text class="tk" transform="translate(631.1,177.1) scale(1.12,1)" font-size="23" text-anchor="end">0</text>
<line x1="642" y1="227.9" x2="655" y2="227.9" stroke="#444" stroke-width="1.4" stroke-linecap="butt"/>
<text class="tk" transform="translate(631.1,235.2) scale(1.03,1)" font-size="23" text-anchor="end">−25</text>
<line x1="642" y1="286" x2="655" y2="286" stroke="#444" stroke-width="1.4" stroke-linecap="butt"/>
<text class="tk" transform="translate(631.1,293.3) scale(1.03,1)" font-size="23" text-anchor="end">−50</text>
<line x1="642" y1="344.1" x2="655" y2="344.1" stroke="#444" stroke-width="1.4" stroke-linecap="butt"/>
<text class="tk" transform="translate(631.1,351.4) scale(1.03,1)" font-size="23" text-anchor="end">−75</text>
<line x1="677.75" y1="170.3" x2="677.75" y2="134.2" stroke="#333333" stroke-width="1.8" stroke-linecap="butt"/>
<line x1="677.75" y1="202.2" x2="677.75" y2="245" stroke="#333333" stroke-width="1.8" stroke-linecap="butt"/>
<rect x="675" y="242.75" width="5.5" height="89.8" fill="#333333" rx="2.75"/>
<circle cx="677.75" cy="97.9" r="2.3" fill="#5a5a5a" stroke="#333333" stroke-width="1"/>
<circle cx="677.75" cy="336.8" r="2.3" fill="#5a5a5a" stroke="#333333" stroke-width="1"/>
<line x1="694.2" y1="178.4" x2="694.2" y2="128.5" stroke="#333333" stroke-width="1.8" stroke-linecap="butt"/>
<line x1="694.2" y1="213" x2="694.2" y2="262.4" stroke="#333333" stroke-width="1.8" stroke-linecap="butt"/>
<rect x="691.45" y="260.15" width="5.5" height="51.6" fill="#333333" rx="2.75"/>
<circle cx="694.2" cy="66.5" r="2.3" fill="#5a5a5a" stroke="#333333" stroke-width="1"/>
<circle cx="694.2" cy="314" r="2.3" fill="#5a5a5a" stroke="#333333" stroke-width="1"/>
<circle cx="694.2" cy="318" r="2.3" fill="#5a5a5a" stroke="#333333" stroke-width="1"/>
<circle cx="694.2" cy="322" r="2.3" fill="#5a5a5a" stroke="#333333" stroke-width="1"/>
<circle cx="694.2" cy="326.8" r="2.3" fill="#5a5a5a" stroke="#333333" stroke-width="1"/>
<line x1="710.65" y1="174.4" x2="710.65" y2="133.2" stroke="#333333" stroke-width="1.8" stroke-linecap="butt"/>
<line x1="710.65" y1="211.2" x2="710.65" y2="261" stroke="#333333" stroke-width="1.8" stroke-linecap="butt"/>
<rect x="707.9" y="258.75" width="5.5" height="25.3" fill="#333333" rx="2.75"/>
<line x1="742.85" y1="169.8" x2="742.85" y2="133.2" stroke="#333333" stroke-width="1.8" stroke-linecap="butt"/>
<line x1="742.85" y1="197.4" x2="742.85" y2="234.8" stroke="#333333" stroke-width="1.8" stroke-linecap="butt"/>
<rect x="740.1" y="232.55" width="5.5" height="79.2" fill="#333333" rx="2.75"/>
<circle cx="742.85" cy="109.9" r="2.3" fill="#5a5a5a" stroke="#333333" stroke-width="1"/>
<circle cx="742.85" cy="122.8" r="2.3" fill="#5a5a5a" stroke="#333333" stroke-width="1"/>
<circle cx="742.85" cy="127.9" r="2.3" fill="#5a5a5a" stroke="#333333" stroke-width="1"/>
<circle cx="742.85" cy="313" r="2.3" fill="#5a5a5a" stroke="#333333" stroke-width="1"/>
<circle cx="742.85" cy="316.5" r="2.3" fill="#5a5a5a" stroke="#333333" stroke-width="1"/>
<circle cx="742.85" cy="320" r="2.3" fill="#5a5a5a" stroke="#333333" stroke-width="1"/>
<circle cx="742.85" cy="329.2" r="2.3" fill="#5a5a5a" stroke="#333333" stroke-width="1"/>
<line x1="759.3" y1="173.6" x2="759.3" y2="130.1" stroke="#333333" stroke-width="1.8" stroke-linecap="butt"/>
<line x1="759.3" y1="203.6" x2="759.3" y2="244.5" stroke="#333333" stroke-width="1.8" stroke-linecap="butt"/>
<rect x="756.55" y="242.25" width="5.5" height="59.8" fill="#333333" rx="2.75"/>
<circle cx="759.3" cy="129.5" r="2.3" fill="#5a5a5a" stroke="#333333" stroke-width="1"/>
<circle cx="759.3" cy="309.5" r="2.3" fill="#5a5a5a" stroke="#333333" stroke-width="1"/>
<line x1="775.75" y1="171.7" x2="775.75" y2="130.8" stroke="#333333" stroke-width="1.8" stroke-linecap="butt"/>
<line x1="775.75" y1="200.4" x2="775.75" y2="237.5" stroke="#333333" stroke-width="1.8" stroke-linecap="butt"/>
<rect x="773" y="235.25" width="5.5" height="41.9" fill="#333333" rx="2.75"/>
<circle cx="775.75" cy="116.6" r="2.3" fill="#5a5a5a" stroke="#333333" stroke-width="1"/>
<circle cx="775.75" cy="122.8" r="2.3" fill="#5a5a5a" stroke="#333333" stroke-width="1"/>
<circle cx="775.75" cy="128.3" r="2.3" fill="#5a5a5a" stroke="#333333" stroke-width="1"/>
<circle cx="775.75" cy="280.4" r="2.3" fill="#5a5a5a" stroke="#333333" stroke-width="1"/>
<circle cx="775.75" cy="285.3" r="2.3" fill="#5a5a5a" stroke="#333333" stroke-width="1"/>
<circle cx="775.75" cy="299.1" r="2.3" fill="#5a5a5a" stroke="#333333" stroke-width="1"/>
<line x1="807.95" y1="168.3" x2="807.95" y2="149.2" stroke="#333333" stroke-width="1.8" stroke-linecap="butt"/>
<line x1="807.95" y1="184.3" x2="807.95" y2="203.4" stroke="#333333" stroke-width="1.8" stroke-linecap="butt"/>
<rect x="805.2" y="125.45" width="5.5" height="26" fill="#333333" rx="2.75"/>
<rect x="805.2" y="201.15" width="5.5" height="51.5" fill="#333333" rx="2.75"/>
<circle cx="807.95" cy="123.4" r="2.3" fill="#5a5a5a" stroke="#333333" stroke-width="1"/>
<circle cx="807.95" cy="113.4" r="2.3" fill="#5a5a5a" stroke="#333333" stroke-width="1"/>
<circle cx="807.95" cy="103" r="2.3" fill="#5a5a5a" stroke="#333333" stroke-width="1"/>
<circle cx="807.95" cy="256.3" r="2.3" fill="#5a5a5a" stroke="#333333" stroke-width="1"/>
<circle cx="807.95" cy="275.4" r="2.3" fill="#5a5a5a" stroke="#333333" stroke-width="1"/>
<line x1="824.4" y1="169.1" x2="824.4" y2="143.6" stroke="#333333" stroke-width="1.8" stroke-linecap="butt"/>
<line x1="824.4" y1="189" x2="824.4" y2="214.5" stroke="#333333" stroke-width="1.8" stroke-linecap="butt"/>
<rect x="821.65" y="130.25" width="5.5" height="15.6" fill="#333333" rx="2.75"/>
<rect x="821.65" y="212.25" width="5.5" height="61" fill="#333333" rx="2.75"/>
<circle cx="824.4" cy="130" r="2.3" fill="#5a5a5a" stroke="#333333" stroke-width="1"/>
<circle cx="824.4" cy="125.3" r="2.3" fill="#5a5a5a" stroke="#333333" stroke-width="1"/>
<circle cx="824.4" cy="121.3" r="2.3" fill="#5a5a5a" stroke="#333333" stroke-width="1"/>
<circle cx="824.4" cy="111" r="2.3" fill="#5a5a5a" stroke="#333333" stroke-width="1"/>
<circle cx="824.4" cy="107" r="2.3" fill="#5a5a5a" stroke="#333333" stroke-width="1"/>
<circle cx="824.4" cy="293.3" r="2.3" fill="#5a5a5a" stroke="#333333" stroke-width="1"/>
<circle cx="824.4" cy="318.7" r="2.3" fill="#5a5a5a" stroke="#333333" stroke-width="1"/>
<line x1="840.85" y1="168.3" x2="840.85" y2="148.4" stroke="#333333" stroke-width="1.8" stroke-linecap="butt"/>
<line x1="840.85" y1="185.9" x2="840.85" y2="206.6" stroke="#333333" stroke-width="1.8" stroke-linecap="butt"/>
<rect x="838.1" y="134.25" width="5.5" height="16.4" fill="#333333" rx="2.75"/>
<rect x="838.1" y="204.35" width="5.5" height="58.6" fill="#333333" rx="2.75"/>
<circle cx="840.85" cy="133.3" r="2.3" fill="#5a5a5a" stroke="#333333" stroke-width="1"/>
<circle cx="840.85" cy="129.3" r="2.3" fill="#5a5a5a" stroke="#333333" stroke-width="1"/>
<circle cx="840.85" cy="123.7" r="2.3" fill="#5a5a5a" stroke="#333333" stroke-width="1"/>
<circle cx="840.85" cy="113.8" r="2.3" fill="#5a5a5a" stroke="#333333" stroke-width="1"/>
<circle cx="840.85" cy="106.2" r="2.3" fill="#5a5a5a" stroke="#333333" stroke-width="1"/>
<circle cx="840.85" cy="269" r="2.3" fill="#5a5a5a" stroke="#333333" stroke-width="1"/>
<rect x="870.3" y="115.95" width="5.5" height="48.3" fill="#333333" rx="2.75"/>
<rect x="870.3" y="170.85" width="5.5" height="68.2" fill="#333333" rx="2.75"/>
<rect x="886.75" y="103.95" width="5.5" height="60.3" fill="#333333" rx="2.75"/>
<rect x="886.75" y="170.75" width="5.5" height="79.5" fill="#333333" rx="2.75"/>
<circle cx="889.5" cy="101" r="2.3" fill="#5a5a5a" stroke="#333333" stroke-width="1"/>
<circle cx="889.5" cy="93.5" r="2.3" fill="#5a5a5a" stroke="#333333" stroke-width="1"/>
<circle cx="889.5" cy="88.7" r="2.3" fill="#5a5a5a" stroke="#333333" stroke-width="1"/>
<circle cx="889.5" cy="84.7" r="2.3" fill="#5a5a5a" stroke="#333333" stroke-width="1"/>
<circle cx="889.5" cy="253.6" r="2.3" fill="#5a5a5a" stroke="#333333" stroke-width="1"/>
<circle cx="889.5" cy="257" r="2.3" fill="#5a5a5a" stroke="#333333" stroke-width="1"/>
<circle cx="889.5" cy="261" r="2.3" fill="#5a5a5a" stroke="#333333" stroke-width="1"/>
<circle cx="889.5" cy="267" r="2.3" fill="#5a5a5a" stroke="#333333" stroke-width="1"/>
<rect x="903.2" y="107.15" width="5.5" height="57.1" fill="#333333" rx="2.75"/>
<rect x="903.2" y="170.75" width="5.5" height="82.7" fill="#333333" rx="2.75"/>
<circle cx="905.95" cy="96.6" r="2.3" fill="#5a5a5a" stroke="#333333" stroke-width="1"/>
<circle cx="905.95" cy="83.9" r="2.3" fill="#5a5a5a" stroke="#333333" stroke-width="1"/>
<circle cx="905.95" cy="76.7" r="2.3" fill="#5a5a5a" stroke="#333333" stroke-width="1"/>
<circle cx="905.95" cy="265.5" r="2.3" fill="#5a5a5a" stroke="#333333" stroke-width="1"/>
<circle cx="905.95" cy="274.3" r="2.3" fill="#5a5a5a" stroke="#333333" stroke-width="1"/>
<line x1="938.15" y1="158" x2="938.15" y2="150.8" stroke="#333333" stroke-width="1.8" stroke-linecap="butt"/>
<line x1="938.15" y1="166.7" x2="938.15" y2="174.7" stroke="#333333" stroke-width="1.8" stroke-linecap="butt"/>
<rect x="935.4" y="108.75" width="5.5" height="44.3" fill="#333333" rx="2.75"/>
<rect x="935.4" y="172.45" width="5.5" height="57.8" fill="#333333" rx="2.75"/>
<circle cx="938.15" cy="91.9" r="2.3" fill="#5a5a5a" stroke="#333333" stroke-width="1"/>
<line x1="954.6" y1="156.8" x2="954.6" y2="150" stroke="#333333" stroke-width="1.8" stroke-linecap="butt"/>
<line x1="954.6" y1="165.9" x2="954.6" y2="174" stroke="#333333" stroke-width="1.8" stroke-linecap="butt"/>
<rect x="951.85" y="95.15" width="5.5" height="57.1" fill="#333333" rx="2.75"/>
<rect x="951.85" y="171.75" width="5.5" height="61.7" fill="#333333" rx="2.75"/>
<circle cx="954.6" cy="82.3" r="2.3" fill="#5a5a5a" stroke="#333333" stroke-width="1"/>
<circle cx="954.6" cy="77.5" r="2.3" fill="#5a5a5a" stroke="#333333" stroke-width="1"/>
<circle cx="954.6" cy="72" r="2.3" fill="#5a5a5a" stroke="#333333" stroke-width="1"/>
<circle cx="954.6" cy="236.8" r="2.3" fill="#5a5a5a" stroke="#333333" stroke-width="1"/>
<circle cx="954.6" cy="240" r="2.3" fill="#5a5a5a" stroke="#333333" stroke-width="1"/>
<circle cx="954.6" cy="244.7" r="2.3" fill="#5a5a5a" stroke="#333333" stroke-width="1"/>
<circle cx="954.6" cy="251.9" r="2.3" fill="#5a5a5a" stroke="#333333" stroke-width="1"/>
<circle cx="954.6" cy="271.8" r="2.3" fill="#5a5a5a" stroke="#333333" stroke-width="1"/>
<line x1="971.05" y1="156.8" x2="971.05" y2="150" stroke="#333333" stroke-width="1.8" stroke-linecap="butt"/>
<line x1="971.05" y1="165.4" x2="971.05" y2="174" stroke="#333333" stroke-width="1.8" stroke-linecap="butt"/>
<rect x="968.3" y="95.95" width="5.5" height="56.3" fill="#333333" rx="2.75"/>
<rect x="968.3" y="171.75" width="5.5" height="51.4" fill="#333333" rx="2.75"/>
<circle cx="971.05" cy="84" r="2.3" fill="#5a5a5a" stroke="#333333" stroke-width="1"/>
<circle cx="971.05" cy="88" r="2.3" fill="#5a5a5a" stroke="#333333" stroke-width="1"/>
<circle cx="971.05" cy="91.9" r="2.3" fill="#5a5a5a" stroke="#333333" stroke-width="1"/>
<circle cx="971.05" cy="227" r="2.3" fill="#5a5a5a" stroke="#333333" stroke-width="1"/>
<circle cx="971.05" cy="231" r="2.3" fill="#5a5a5a" stroke="#333333" stroke-width="1"/>
<circle cx="971.05" cy="235" r="2.3" fill="#5a5a5a" stroke="#333333" stroke-width="1"/>
<circle cx="971.05" cy="238.4" r="2.3" fill="#5a5a5a" stroke="#333333" stroke-width="1"/>
<circle cx="971.05" cy="254.3" r="2.3" fill="#5a5a5a" stroke="#333333" stroke-width="1"/>
<line x1="1003.25" y1="159" x2="1003.25" y2="150.8" stroke="#333333" stroke-width="1.8" stroke-linecap="butt"/>
<line x1="1003.25" y1="169.6" x2="1003.25" y2="179.4" stroke="#333333" stroke-width="1.8" stroke-linecap="butt"/>
<rect x="1000.5" y="116.65" width="5.5" height="36.4" fill="#333333" rx="2.75"/>
<circle cx="1003.25" cy="115.4" r="2.3" fill="#5a5a5a" stroke="#333333" stroke-width="1"/>
<circle cx="1003.25" cy="181.8" r="2.3" fill="#5a5a5a" stroke="#333333" stroke-width="1"/>
<circle cx="1003.25" cy="188.2" r="2.3" fill="#5a5a5a" stroke="#333333" stroke-width="1"/>
<line x1="1019.7" y1="155.2" x2="1019.7" y2="150" stroke="#333333" stroke-width="1.8" stroke-linecap="butt"/>
<line x1="1019.7" y1="161.9" x2="1019.7" y2="170" stroke="#333333" stroke-width="1.8" stroke-linecap="butt"/>
<rect x="1016.95" y="131.75" width="5.5" height="20.5" fill="#333333" rx="2.75"/>
<rect x="1016.95" y="167.75" width="5.5" height="23.5" fill="#333333" rx="2.75"/>
<circle cx="1019.7" cy="130" r="2.3" fill="#5a5a5a" stroke="#333333" stroke-width="1"/>
<circle cx="1019.7" cy="126" r="2.3" fill="#5a5a5a" stroke="#333333" stroke-width="1"/>
<circle cx="1019.7" cy="122.6" r="2.3" fill="#5a5a5a" stroke="#333333" stroke-width="1"/>
<circle cx="1019.7" cy="196.2" r="2.3" fill="#5a5a5a" stroke="#333333" stroke-width="1"/>
<circle cx="1019.7" cy="204.1" r="2.3" fill="#5a5a5a" stroke="#333333" stroke-width="1"/>
<line x1="1036.15" y1="158.4" x2="1036.15" y2="144.4" stroke="#333333" stroke-width="1.8" stroke-linecap="butt"/>
<line x1="1036.15" y1="167.7" x2="1036.15" y2="178.6" stroke="#333333" stroke-width="1.8" stroke-linecap="butt"/>
<circle cx="1036.15" cy="139.6" r="2.3" fill="#5a5a5a" stroke="#333333" stroke-width="1"/>
<circle cx="1036.15" cy="143" r="2.3" fill="#5a5a5a" stroke="#333333" stroke-width="1"/>
<circle cx="1036.15" cy="178.6" r="2.3" fill="#5a5a5a" stroke="#333333" stroke-width="1"/>
<rect x="670.42" y="171.2" width="14.65" height="30.1" fill="#a57bba" stroke="#333333" stroke-width="2.2"/>
<line x1="670.42" y1="184.8" x2="685.07" y2="184.8" stroke="#333333" stroke-width="4" stroke-linecap="butt"/>
<rect x="686.88" y="179.3" width="14.65" height="32.8" fill="#62b2b6" stroke="#333333" stroke-width="2.2"/>
<line x1="686.88" y1="195.3" x2="701.52" y2="195.3" stroke="#333333" stroke-width="4" stroke-linecap="butt"/>
<rect x="703.33" y="175.3" width="14.65" height="35" fill="#e1e168" stroke="#333333" stroke-width="2.2"/>
<line x1="703.33" y1="191.8" x2="717.98" y2="191.8" stroke="#333333" stroke-width="4" stroke-linecap="butt"/>
<rect x="735.52" y="170.7" width="14.65" height="25.8" fill="#a57bba" stroke="#333333" stroke-width="2.2"/>
<line x1="735.52" y1="182" x2="750.17" y2="182" stroke="#333333" stroke-width="4" stroke-linecap="butt"/>
<rect x="751.98" y="174.5" width="14.65" height="28.2" fill="#62b2b6" stroke="#333333" stroke-width="2.2"/>
<line x1="751.98" y1="188.9" x2="766.62" y2="188.9" stroke="#333333" stroke-width="4" stroke-linecap="butt"/>
<rect x="768.43" y="172.6" width="14.65" height="26.9" fill="#e1e168" stroke="#333333" stroke-width="2.2"/>
<line x1="768.43" y1="185.8" x2="783.08" y2="185.8" stroke="#333333" stroke-width="4" stroke-linecap="butt"/>
<rect x="800.62" y="169.2" width="14.65" height="14.2" fill="#a57bba" stroke="#333333" stroke-width="2.2"/>
<line x1="800.62" y1="173" x2="815.27" y2="173" stroke="#333333" stroke-width="4" stroke-linecap="butt"/>
<rect x="817.08" y="170" width="14.65" height="18.1" fill="#62b2b6" stroke="#333333" stroke-width="2.2"/>
<line x1="817.08" y1="178.7" x2="831.73" y2="178.7" stroke="#333333" stroke-width="4" stroke-linecap="butt"/>
<rect x="833.53" y="169.2" width="14.65" height="15.8" fill="#e1e168" stroke="#333333" stroke-width="2.2"/>
<line x1="833.53" y1="174.7" x2="848.18" y2="174.7" stroke="#333333" stroke-width="4" stroke-linecap="butt"/>
<rect x="863.72" y="164.4" width="18.65" height="7.4" fill="#333333"/>
<rect x="880.17" y="163.7" width="18.65" height="7.6" fill="#333333"/>
<rect x="896.62" y="162.7" width="18.65" height="8.2" fill="#333333"/>
<rect x="928.82" y="156.9" width="18.65" height="10.9" fill="#333333"/>
<line x1="931.52" y1="160.3" x2="944.77" y2="160.3" stroke="#a57bba" stroke-width="1.3" stroke-linecap="butt"/>
<rect x="945.27" y="155.7" width="18.65" height="11.3" fill="#333333"/>
<line x1="947.98" y1="159.5" x2="961.23" y2="159.5" stroke="#62b2b6" stroke-width="1.3" stroke-linecap="butt"/>
<rect x="961.73" y="155.7" width="18.65" height="10.8" fill="#333333"/>
<line x1="964.43" y1="158.4" x2="977.68" y2="158.4" stroke="#e1e168" stroke-width="1.3" stroke-linecap="butt"/>
<rect x="993.92" y="157.9" width="18.65" height="12.8" fill="#333333"/>
<line x1="996.62" y1="162.2" x2="1009.88" y2="162.2" stroke="#a57bba" stroke-width="1.3" stroke-linecap="butt"/>
<rect x="1010.38" y="154.1" width="18.65" height="8.9" fill="#333333"/>
<rect x="1026.83" y="157.3" width="18.65" height="11.5" fill="#333333"/>
<line x1="1029.53" y1="160.3" x2="1042.78" y2="160.3" stroke="#e1e168" stroke-width="1.3" stroke-linecap="butt"/>
<line x1="1029.53" y1="165.1" x2="1042.78" y2="165.1" stroke="#e1e168" stroke-width="1.3" stroke-linecap="butt"/>
<line x1="694.2" y1="358" x2="694.2" y2="370.5" stroke="#333333" stroke-width="1.4" stroke-linecap="butt"/>
<text class="tk" transform="translate(700.8,382.5) rotate(-90) scale(1.0,1)" font-size="23" text-anchor="end">&lt;90</text>
<line x1="759.3" y1="358" x2="759.3" y2="370.5" stroke="#333333" stroke-width="1.4" stroke-linecap="butt"/>
<text class="tk" transform="translate(765.9,382.5) rotate(-90) scale(1.024,1)" font-size="23" text-anchor="end">90–180</text>
<line x1="824.4" y1="358" x2="824.4" y2="370.5" stroke="#333333" stroke-width="1.4" stroke-linecap="butt"/>
<text class="tk" transform="translate(831,382.5) rotate(-90) scale(1.02,1)" font-size="23" text-anchor="end">180–270</text>
<line x1="889.5" y1="358" x2="889.5" y2="370.5" stroke="#333333" stroke-width="1.4" stroke-linecap="butt"/>
<text class="tk" transform="translate(896.1,382.5) rotate(-90) scale(1.06,1)" font-size="23" text-anchor="end">270–360</text>
<line x1="954.6" y1="358" x2="954.6" y2="370.5" stroke="#333333" stroke-width="1.4" stroke-linecap="butt"/>
<text class="tk" transform="translate(961.2,382.5) rotate(-90) scale(1.097,1)" font-size="23" text-anchor="end">360–450</text>
<line x1="1019.7" y1="358" x2="1019.7" y2="370.5" stroke="#333333" stroke-width="1.4" stroke-linecap="butt"/>
<text class="tk" transform="translate(1026.3,382.5) rotate(-90) scale(1.024,1)" font-size="23" text-anchor="end">&gt;450</text>
<g clip-path="url(#cc)">
<polygon points="137.5,832 138.5,800 141,765 144,740 148,715 150.8,700 152.6,691 155.5,662.6 162.1,649.4 171.5,638.1 173.4,619.2 175.3,602.3 179.1,587.2 180,574 180.9,562.6 186.6,566.4 194.2,577.7 205.5,589.1 213,602.3 224.3,617.4 231.9,628.7 243.2,645.7 258.3,657 273.4,668.3 290.4,685.3 309.2,694.7 320,708.3 331.3,723.4 342.6,730.9 357.7,742.3 376.6,749.8 395.5,763 414.3,778.1 433.2,793.2 452.1,804.5 470.9,812.1 489.8,819.6 508.7,825.3 514.3,832" fill="#3c6991" fill-opacity="0.55" filter="url(#blur2)"/>
<polygon points="138.71,831.85 140.68,800.29 143.43,765.25 146.27,740.22 149.83,715.23 152.26,700.15 153.76,691.12 158.2,664.12 163.88,653.64 172.54,645.33 175.36,632.81 178.08,621.61 181.72,611.63 182.31,603.05 182.9,595.64 186.6,598.11 191.54,605.46 198.88,612.87 207.2,622.44 215.73,632.59 221.78,640.86 235.37,656.7 251.36,668.03 267.3,678.89 286.06,694.04 304.26,703.45 315.8,714.85 328.13,728 339.39,735.57 355.59,746.53 373.69,754.67 393.92,766.99 413.23,780.22 432.61,794.18 451.51,805.48 470.12,813.67 489.43,820.82 506.74,826.85 511.01,832" fill="#3c6991" fill-opacity="0.72" filter="url(#blur2)"/>
<g fill="#3c6991" fill-opacity="0.12" stroke="#3c6991" stroke-opacity="0.22" stroke-width="0.9">
<circle cx="373.19" cy="764.37" r="3.6"/>
<circle cx="214.1" cy="618.37" r="3.6"/>
<circle cx="340.99" cy="746.63" r="3.6"/>
<circle cx="189.57" cy="576.67" r="3.6"/>
<circle cx="255.02" cy="692.09" r="3.6"/>
<circle cx="140.45" cy="777.12" r="3.6"/>
<circle cx="168.59" cy="653.12" r="3.6"/>
<circle cx="246.94" cy="684.31" r="3.6"/>
<circle cx="389.01" cy="769.32" r="3.6"/>
<circle cx="378.57" cy="758.44" r="3.6"/>
<circle cx="240.68" cy="672.35" r="3.6"/>
<circle cx="501.84" cy="827.12" r="3.6"/>
<circle cx="278.13" cy="678.35" r="3.6"/>
<circle cx="220.59" cy="639.46" r="3.6"/>
<circle cx="243.71" cy="690.9" r="3.6"/>
<circle cx="298.09" cy="718.28" r="3.6"/>
<circle cx="317.59" cy="710.92" r="3.6"/>
<circle cx="143.33" cy="759.05" r="3.6"/>
<circle cx="223.7" cy="661.57" r="3.6"/>
<circle cx="144.84" cy="759.72" r="3.6"/>
<circle cx="223.94" cy="651.05" r="3.6"/>
<circle cx="193.02" cy="602.72" r="3.6"/>
<circle cx="231.27" cy="635.56" r="3.6"/>
<circle cx="195.66" cy="638.23" r="3.6"/>
<circle cx="196.36" cy="625.32" r="3.6"/>
<circle cx="231.79" cy="671.63" r="3.6"/>
<circle cx="288.33" cy="705.99" r="3.6"/>
<circle cx="165.96" cy="645.67" r="3.6"/>
<circle cx="320.72" cy="717.11" r="3.6"/>
<circle cx="251.87" cy="683.16" r="3.6"/>
<circle cx="178.02" cy="645.07" r="3.6"/>
<circle cx="183.45" cy="581.34" r="3.6"/>
<circle cx="298.44" cy="718.66" r="3.6"/>
<circle cx="210.4" cy="637.94" r="3.6"/>
<circle cx="178.98" cy="646.56" r="3.6"/>
<circle cx="253.59" cy="664.8" r="3.6"/>
<circle cx="167.08" cy="657.32" r="3.6"/>
<circle cx="297.19" cy="705.28" r="3.6"/>
<circle cx="204.26" cy="611.38" r="3.6"/>
<circle cx="193.78" cy="584.35" r="3.6"/>
<circle cx="416.8" cy="785.06" r="3.6"/>
<circle cx="277.58" cy="685.84" r="3.6"/>
<circle cx="395.36" cy="764.69" r="3.6"/>
<circle cx="247.39" cy="652.07" r="3.6"/>
<circle cx="168.83" cy="657.29" r="3.6"/>
<circle cx="142.67" cy="772.08" r="3.6"/>
<circle cx="161.94" cy="664.34" r="3.6"/>
<circle cx="275.37" cy="691.11" r="3.6"/>
<circle cx="294.67" cy="698.45" r="3.6"/>
<circle cx="155.07" cy="697.45" r="3.6"/>
<circle cx="248.07" cy="683.44" r="3.6"/>
<circle cx="276.05" cy="705.64" r="3.6"/>
<circle cx="186.6" cy="655.96" r="3.6"/>
<circle cx="323.7" cy="715.59" r="3.6"/>
<circle cx="228.05" cy="631.66" r="3.6"/>
<circle cx="186.33" cy="573.01" r="3.6"/>
<circle cx="193.31" cy="618.63" r="3.6"/>
<circle cx="189.32" cy="632.9" r="3.6"/>
<circle cx="233.24" cy="657.79" r="3.6"/>
<circle cx="492.59" cy="821.01" r="3.6"/>
<circle cx="187.17" cy="573.46" r="3.6"/>
<circle cx="185.14" cy="614.83" r="3.6"/>
<circle cx="184.83" cy="605.12" r="3.6"/>
<circle cx="230.42" cy="657.43" r="3.6"/>
<circle cx="469.7" cy="813.66" r="3.6"/>
<circle cx="242.04" cy="651.19" r="3.6"/>
<circle cx="385.57" cy="768.6" r="3.6"/>
<circle cx="179.48" cy="614.79" r="3.6"/>
<circle cx="369.79" cy="757.22" r="3.6"/>
<circle cx="141.3" cy="803.96" r="3.6"/>
<circle cx="288.43" cy="683.71" r="3.6"/>
<circle cx="396.29" cy="770.18" r="3.6"/>
<circle cx="468.56" cy="813.02" r="3.6"/>
<circle cx="395.9" cy="772.03" r="3.6"/>
<circle cx="240.56" cy="683.3" r="3.6"/>
<circle cx="227.22" cy="639.12" r="3.6"/>
<circle cx="168.45" cy="642.54" r="3.6"/>
<circle cx="170.42" cy="654.52" r="3.6"/>
<circle cx="266.93" cy="699.2" r="3.6"/>
<circle cx="251.25" cy="659.91" r="3.6"/>
<circle cx="195.71" cy="650.75" r="3.6"/>
<circle cx="325.65" cy="719.75" r="3.6"/>
<circle cx="198.57" cy="633.49" r="3.6"/>
<circle cx="179.74" cy="580.96" r="3.6"/>
<circle cx="228.66" cy="660.72" r="3.6"/>
<circle cx="221.4" cy="615.54" r="3.6"/>
<circle cx="375.59" cy="750.23" r="3.6"/>
<circle cx="312.72" cy="709.85" r="3.6"/>
<circle cx="266.86" cy="690.41" r="3.6"/>
<circle cx="314.51" cy="725.32" r="3.6"/>
<circle cx="305.17" cy="714.02" r="3.6"/>
<circle cx="221.53" cy="636.58" r="3.6"/>
<circle cx="317.15" cy="707.68" r="3.6"/>
<circle cx="303.97" cy="715.73" r="3.6"/>
<circle cx="437.33" cy="797.15" r="3.6"/>
<circle cx="370.32" cy="752.46" r="3.6"/>
<circle cx="338.1" cy="743.76" r="3.6"/>
<circle cx="256.15" cy="697.2" r="3.6"/>
<circle cx="233.2" cy="659.52" r="3.6"/>
<circle cx="190.76" cy="645.87" r="3.6"/>
<circle cx="417.2" cy="783.59" r="3.6"/>
<circle cx="297.7" cy="703.02" r="3.6"/>
<circle cx="227.51" cy="675.88" r="3.6"/>
<circle cx="173.55" cy="624.63" r="3.6"/>
<circle cx="223.37" cy="645.61" r="3.6"/>
<circle cx="213.92" cy="623.63" r="3.6"/>
<circle cx="199.37" cy="621.02" r="3.6"/>
<circle cx="236.26" cy="672.9" r="3.6"/>
<circle cx="208.3" cy="619.48" r="3.6"/>
<circle cx="267.64" cy="673.03" r="3.6"/>
<circle cx="473.72" cy="816.22" r="3.6"/>
<circle cx="271.21" cy="679.56" r="3.6"/>
<circle cx="368.23" cy="755.55" r="3.6"/>
<circle cx="235.56" cy="650.25" r="3.6"/>
<circle cx="314.84" cy="714.48" r="3.6"/>
<circle cx="190.98" cy="614.76" r="3.6"/>
<circle cx="201.52" cy="613.22" r="3.6"/>
<circle cx="212.04" cy="620" r="3.6"/>
<circle cx="197.79" cy="627.84" r="3.6"/>
<circle cx="188.24" cy="590.32" r="3.6"/>
<circle cx="236.86" cy="674.34" r="3.6"/>
<circle cx="161.53" cy="652.68" r="3.6"/>
<circle cx="207.84" cy="604.9" r="3.6"/>
<circle cx="229.59" cy="663.19" r="3.6"/>
<circle cx="240.54" cy="654.05" r="3.6"/>
<circle cx="248.15" cy="689.29" r="3.6"/>
<circle cx="190.42" cy="587.83" r="3.6"/>
<circle cx="313" cy="710.71" r="3.6"/>
<circle cx="227.5" cy="643.35" r="3.6"/>
<circle cx="214.62" cy="668.84" r="3.6"/>
<circle cx="179.47" cy="598.67" r="3.6"/>
<circle cx="399.71" cy="766.88" r="3.6"/>
<circle cx="252.58" cy="680.74" r="3.6"/>
<circle cx="421.05" cy="784.73" r="3.6"/>
<circle cx="250" cy="665.5" r="3.6"/>
<circle cx="181.61" cy="621.18" r="3.6"/>
<circle cx="217.78" cy="648.81" r="3.6"/>
<circle cx="145.85" cy="736.56" r="3.6"/>
<circle cx="236.01" cy="671.36" r="3.6"/>
<circle cx="349.92" cy="749.85" r="3.6"/>
<circle cx="298.57" cy="699.29" r="3.6"/>
<circle cx="178.89" cy="627.07" r="3.6"/>
<circle cx="317.96" cy="729.23" r="3.6"/>
<circle cx="215.18" cy="666.46" r="3.6"/>
<circle cx="208.82" cy="600.5" r="3.6"/>
<circle cx="206.47" cy="646.48" r="3.6"/>
<circle cx="214.08" cy="623.92" r="3.6"/>
<circle cx="362.22" cy="753.65" r="3.6"/>
<circle cx="148.29" cy="719.46" r="3.6"/>
<circle cx="208.31" cy="664.15" r="3.6"/>
<circle cx="298.44" cy="698.97" r="3.6"/>
<circle cx="192.05" cy="590.16" r="3.6"/>
<circle cx="144.04" cy="761.75" r="3.6"/>
<circle cx="231.62" cy="652.87" r="3.6"/>
<circle cx="307.63" cy="705.92" r="3.6"/>
<circle cx="241.36" cy="668.72" r="3.6"/>
<circle cx="157.19" cy="670.55" r="3.6"/>
<circle cx="380.57" cy="763.37" r="3.6"/>
<circle cx="197.66" cy="642.27" r="3.6"/>
<circle cx="220.4" cy="616.43" r="3.6"/>
<circle cx="206.95" cy="639.32" r="3.6"/>
<circle cx="181.46" cy="603.57" r="3.6"/>
<circle cx="260.62" cy="660.67" r="3.6"/>
<circle cx="305.84" cy="721.55" r="3.6"/>
<circle cx="356.13" cy="755.45" r="3.6"/>
<circle cx="185.32" cy="651.47" r="3.6"/>
<circle cx="186.97" cy="655.69" r="3.6"/>
<circle cx="191.03" cy="619.21" r="3.6"/>
<circle cx="138.23" cy="824.54" r="3.6"/>
<circle cx="146" cy="759.85" r="3.6"/>
<circle cx="304.46" cy="716.74" r="3.6"/>
<circle cx="232.32" cy="684.34" r="3.6"/>
<circle cx="200.53" cy="655.8" r="3.6"/>
<circle cx="400.08" cy="777.43" r="3.6"/>
<circle cx="187.48" cy="650.81" r="3.6"/>
<circle cx="145.28" cy="791.02" r="3.6"/>
<circle cx="154.44" cy="675.43" r="3.6"/>
<circle cx="313.19" cy="721.45" r="3.6"/>
<circle cx="206.28" cy="663.79" r="3.6"/>
<circle cx="205.54" cy="589.34" r="3.6"/>
<circle cx="179.93" cy="640.9" r="3.6"/>
<circle cx="211.94" cy="647.9" r="3.6"/>
<circle cx="185.78" cy="614.57" r="3.6"/>
<circle cx="202.25" cy="657.41" r="3.6"/>
<circle cx="331.31" cy="741.59" r="3.6"/>
<circle cx="391.31" cy="764.91" r="3.6"/>
<circle cx="274.46" cy="703.59" r="3.6"/>
<circle cx="208.24" cy="610.43" r="3.6"/>
<circle cx="200.67" cy="588.66" r="3.6"/>
<circle cx="321.95" cy="714.45" r="3.6"/>
<circle cx="147.09" cy="759.96" r="3.6"/>
<circle cx="187.42" cy="599.04" r="3.6"/>
<circle cx="164.84" cy="652.07" r="3.6"/>
<circle cx="185.82" cy="647.16" r="3.6"/>
<circle cx="203.73" cy="605.53" r="3.6"/>
<circle cx="378.4" cy="758.29" r="3.6"/>
<circle cx="179.62" cy="606.82" r="3.6"/>
<circle cx="373.75" cy="757.32" r="3.6"/>
<circle cx="226.17" cy="680.15" r="3.6"/>
<circle cx="244.25" cy="668.09" r="3.6"/>
<circle cx="172.73" cy="651.07" r="3.6"/>
<circle cx="314.45" cy="702.18" r="3.6"/>
<circle cx="372.81" cy="749.71" r="3.6"/>
<circle cx="180.25" cy="590.22" r="3.6"/>
<circle cx="354.39" cy="743.64" r="3.6"/>
<circle cx="208.7" cy="661.69" r="3.6"/>
<circle cx="330.52" cy="730.26" r="3.6"/>
<circle cx="144.61" cy="758.5" r="3.6"/>
<circle cx="292.12" cy="703.69" r="3.6"/>
<circle cx="178.05" cy="641.87" r="3.6"/>
<circle cx="214.36" cy="623.37" r="3.6"/>
<circle cx="237.37" cy="680.61" r="3.6"/>
<circle cx="194.47" cy="581.54" r="3.6"/>
<circle cx="139.16" cy="811.52" r="3.6"/>
<circle cx="275" cy="698.76" r="3.6"/>
<circle cx="215.06" cy="657.81" r="3.6"/>
<circle cx="197.8" cy="648.91" r="3.6"/>
<circle cx="500.92" cy="825.08" r="3.6"/>
<circle cx="216.83" cy="653.89" r="3.6"/>
<circle cx="180.79" cy="644.76" r="3.6"/>
<circle cx="158.24" cy="674.97" r="3.6"/>
<circle cx="169.18" cy="653.81" r="3.6"/>
<circle cx="443.46" cy="801.58" r="3.6"/>
<circle cx="200.98" cy="637.83" r="3.6"/>
<circle cx="255.18" cy="674.08" r="3.6"/>
<circle cx="283.88" cy="712.8" r="3.6"/>
<circle cx="214.89" cy="658.76" r="3.6"/>
<circle cx="328.93" cy="726.7" r="3.6"/>
<circle cx="153.51" cy="710.37" r="3.6"/>
<circle cx="193.87" cy="601.58" r="3.6"/>
<circle cx="418.22" cy="787.32" r="3.6"/>
<circle cx="216.08" cy="617.11" r="3.6"/>
<circle cx="141.25" cy="816.15" r="3.6"/>
<circle cx="377.95" cy="763.05" r="3.6"/>
<circle cx="217.62" cy="628.45" r="3.6"/>
<circle cx="189.19" cy="597.76" r="3.6"/>
<circle cx="210.4" cy="615.35" r="3.6"/>
<circle cx="242.49" cy="667.56" r="3.6"/>
<circle cx="200.22" cy="630.87" r="3.6"/>
<circle cx="198.31" cy="582.32" r="3.6"/>
<circle cx="331.19" cy="727.69" r="3.6"/>
<circle cx="197.12" cy="637.37" r="3.6"/>
<circle cx="362.36" cy="759.05" r="3.6"/>
<circle cx="230.9" cy="632.01" r="3.6"/>
<circle cx="257.06" cy="697.36" r="3.6"/>
<circle cx="205.64" cy="622.44" r="3.6"/>
<circle cx="370.18" cy="753.05" r="3.6"/>
<circle cx="380.93" cy="759.21" r="3.6"/>
<circle cx="396.85" cy="768.5" r="3.6"/>
<circle cx="207.27" cy="636.34" r="3.6"/>
<circle cx="228.02" cy="679.45" r="3.6"/>
<circle cx="351.04" cy="744.15" r="3.6"/>
<circle cx="221.07" cy="635.03" r="3.6"/>
<circle cx="199.75" cy="591.08" r="3.6"/>
<circle cx="237.12" cy="669.01" r="3.6"/>
<circle cx="219.96" cy="658.26" r="3.6"/>
<circle cx="221.97" cy="652.02" r="3.6"/>
<circle cx="357.59" cy="745.89" r="3.6"/>
<circle cx="182.86" cy="572.56" r="3.6"/>
<circle cx="344.55" cy="748.3" r="3.6"/>
<circle cx="153.53" cy="683.73" r="3.6"/>
<circle cx="218.61" cy="651.03" r="3.6"/>
<circle cx="289.24" cy="711.23" r="3.6"/>
<circle cx="182.91" cy="619.54" r="3.6"/>
<circle cx="386.13" cy="765.03" r="3.6"/>
<circle cx="289.29" cy="707.25" r="3.6"/>
<circle cx="138.2" cy="810.11" r="3.6"/>
<circle cx="368" cy="758.93" r="3.6"/>
<circle cx="315.87" cy="726.33" r="3.6"/>
<circle cx="183.03" cy="569.82" r="3.6"/>
<circle cx="272.09" cy="690.07" r="3.6"/>
<circle cx="175.89" cy="620.74" r="3.6"/>
<circle cx="284.03" cy="697.42" r="3.6"/>
<circle cx="195.5" cy="581.9" r="3.6"/>
<circle cx="305.95" cy="724.02" r="3.6"/>
<circle cx="205.95" cy="649.25" r="3.6"/>
<circle cx="234.76" cy="662.07" r="3.6"/>
<circle cx="200.54" cy="625.74" r="3.6"/>
<circle cx="345.31" cy="735.89" r="3.6"/>
<circle cx="178.24" cy="655.09" r="3.6"/>
<circle cx="370.73" cy="760.32" r="3.6"/>
<circle cx="332.89" cy="734.85" r="3.6"/>
<circle cx="176.73" cy="618.26" r="3.6"/>
<circle cx="322.05" cy="721.72" r="3.6"/>
<circle cx="198.02" cy="637.43" r="3.6"/>
<circle cx="443.6" cy="801.73" r="3.6"/>
<circle cx="287.14" cy="708.28" r="3.6"/>
<circle cx="193.18" cy="611.68" r="3.6"/>
<circle cx="359.74" cy="744.87" r="3.6"/>
<circle cx="169.54" cy="641.56" r="3.6"/>
<circle cx="339.33" cy="735.48" r="3.6"/>
<circle cx="206.83" cy="603.66" r="3.6"/>
<circle cx="178.39" cy="649.48" r="3.6"/>
<circle cx="293.87" cy="698.83" r="3.6"/>
<circle cx="155.19" cy="671.96" r="3.6"/>
<circle cx="508.67" cy="827.16" r="3.6"/>
<circle cx="300.25" cy="701.48" r="3.6"/>
<circle cx="308.21" cy="706.92" r="3.6"/>
<circle cx="226.73" cy="660.81" r="3.6"/>
<circle cx="205.62" cy="616.33" r="3.6"/>
<circle cx="395.86" cy="771.91" r="3.6"/>
<circle cx="237.82" cy="667.78" r="3.6"/>
<circle cx="277.19" cy="689.81" r="3.6"/>
<circle cx="338.78" cy="736.09" r="3.6"/>
<circle cx="245.98" cy="652.56" r="3.6"/>
<circle cx="331.81" cy="739.65" r="3.6"/>
<circle cx="188.51" cy="619.44" r="3.6"/>
<circle cx="197.48" cy="647.95" r="3.6"/>
<circle cx="266.09" cy="694.84" r="3.6"/>
<circle cx="197.38" cy="659.9" r="3.6"/>
<circle cx="184.09" cy="609.85" r="3.6"/>
<circle cx="264.36" cy="671.32" r="3.6"/>
<circle cx="223.65" cy="625.38" r="3.6"/>
<circle cx="176.71" cy="617.49" r="3.6"/>
<circle cx="322.7" cy="716.32" r="3.6"/>
<circle cx="187.86" cy="588.85" r="3.6"/>
<circle cx="176.42" cy="655.56" r="3.6"/>
<circle cx="143.16" cy="767.28" r="3.6"/>
<circle cx="247.41" cy="685.59" r="3.6"/>
<circle cx="138.37" cy="806.89" r="3.6"/>
<circle cx="206.56" cy="613.11" r="3.6"/>
<circle cx="271.55" cy="686.58" r="3.6"/>
<circle cx="198.27" cy="611.09" r="3.6"/>
<circle cx="227.5" cy="669.54" r="3.6"/>
<circle cx="239.12" cy="664.81" r="3.6"/>
<circle cx="155.44" cy="689.75" r="3.6"/>
<circle cx="177.23" cy="640.93" r="3.6"/>
<circle cx="144.24" cy="743.6" r="3.6"/>
<circle cx="164.74" cy="658" r="3.6"/>
<circle cx="475.08" cy="817.11" r="3.6"/>
<circle cx="191.74" cy="615.99" r="3.6"/>
<circle cx="292.58" cy="686.5" r="3.6"/>
<circle cx="384.61" cy="771.51" r="3.6"/>
<circle cx="220" cy="655.36" r="3.6"/>
<circle cx="343.14" cy="742.31" r="3.6"/>
<circle cx="249.57" cy="690.55" r="3.6"/>
<circle cx="316.79" cy="717.19" r="3.6"/>
<circle cx="396.77" cy="769.54" r="3.6"/>
<circle cx="307.63" cy="703.37" r="3.6"/>
<circle cx="194.72" cy="581.54" r="3.6"/>
<circle cx="215.48" cy="659" r="3.6"/>
<circle cx="293.55" cy="715.81" r="3.6"/>
<circle cx="141.83" cy="785.83" r="3.6"/>
<circle cx="269.58" cy="692.11" r="3.6"/>
<circle cx="186.71" cy="648.34" r="3.6"/>
<circle cx="307.14" cy="701.34" r="3.6"/>
<circle cx="235.32" cy="684.68" r="3.6"/>
<circle cx="291.22" cy="706.18" r="3.6"/>
<circle cx="276.5" cy="694.89" r="3.6"/>
<circle cx="245.29" cy="653.62" r="3.6"/>
<circle cx="196.08" cy="626.07" r="3.6"/>
<circle cx="153.8" cy="702.14" r="3.6"/>
<circle cx="210.68" cy="601.21" r="3.6"/>
<circle cx="293.98" cy="689.48" r="3.6"/>
<circle cx="406.96" cy="780" r="3.6"/>
<circle cx="144.95" cy="737.02" r="3.6"/>
<circle cx="289.38" cy="701.76" r="3.6"/>
<circle cx="153.17" cy="710.13" r="3.6"/>
<circle cx="197.2" cy="614.01" r="3.6"/>
<circle cx="227.06" cy="644.34" r="3.6"/>
<circle cx="216.77" cy="616.35" r="3.6"/>
<circle cx="187.66" cy="579.22" r="3.6"/>
<circle cx="140.82" cy="805.17" r="3.6"/>
<circle cx="206.04" cy="594.3" r="3.6"/>
<circle cx="143.16" cy="763.36" r="3.6"/>
<circle cx="292.16" cy="715.6" r="3.6"/>
<circle cx="273.79" cy="672.87" r="3.6"/>
<circle cx="176.4" cy="645.26" r="3.6"/>
<circle cx="206.47" cy="629.09" r="3.6"/>
<circle cx="391" cy="765.03" r="3.6"/>
<circle cx="195.78" cy="624.41" r="3.6"/>
<circle cx="179.61" cy="652.47" r="3.6"/>
<circle cx="239.62" cy="648.82" r="3.6"/>
<circle cx="246.77" cy="675.36" r="3.6"/>
<circle cx="247.97" cy="666.51" r="3.6"/>
<circle cx="142.9" cy="796.08" r="3.6"/>
<circle cx="261.99" cy="662.35" r="3.6"/>
<circle cx="213.37" cy="634.19" r="3.6"/>
<circle cx="295.96" cy="695.04" r="3.6"/>
<circle cx="386.29" cy="768.81" r="3.6"/>
<circle cx="228.93" cy="633.2" r="3.6"/>
<circle cx="176.34" cy="602.32" r="3.6"/>
<circle cx="291.25" cy="706.19" r="3.6"/>
<circle cx="307.31" cy="712.89" r="3.6"/>
<circle cx="270.31" cy="689.89" r="3.6"/>
<circle cx="171.66" cy="657.83" r="3.6"/>
<circle cx="499.07" cy="824.46" r="3.6"/>
<circle cx="318.4" cy="724.68" r="3.6"/>
<circle cx="292.05" cy="712.37" r="3.6"/>
<circle cx="293.32" cy="697.16" r="3.6"/>
<circle cx="427.15" cy="791.41" r="3.6"/>
<circle cx="184.24" cy="612.12" r="3.6"/>
<circle cx="383.27" cy="754.92" r="3.6"/>
<circle cx="333.49" cy="727.39" r="3.6"/>
<circle cx="337.4" cy="729.54" r="3.6"/>
<circle cx="224.66" cy="663.98" r="3.6"/>
<circle cx="224.61" cy="650.87" r="3.6"/>
<circle cx="266.01" cy="689.95" r="3.6"/>
<circle cx="477.33" cy="816.55" r="3.6"/>
<circle cx="142.98" cy="798.34" r="3.6"/>
<circle cx="180.9" cy="554.2" r="3.6"/>
<circle cx="186.6" cy="558.9" r="3.6"/>
<circle cx="192.3" cy="562.6" r="3.6"/>
<circle cx="197.9" cy="569.2" r="3.6"/>
<circle cx="209.2" cy="573.6" r="3.6"/>
<circle cx="173.4" cy="578.7" r="3.6"/>
<circle cx="165.8" cy="599.4" r="3.6"/>
<circle cx="169.6" cy="607" r="3.6"/>
<circle cx="164.9" cy="626.8" r="3.6"/>
<circle cx="163" cy="642.8" r="3.6"/>
<circle cx="156.4" cy="660.8" r="3.6"/>
<circle cx="232.8" cy="606" r="3.6"/>
<circle cx="228.1" cy="614.5" r="3.6"/>
<circle cx="237.5" cy="630.6" r="3.6"/>
<circle cx="244.2" cy="637.7" r="3.6"/>
<circle cx="254.5" cy="636.6" r="3.6"/>
<circle cx="255.5" cy="643.8" r="3.6"/>
<circle cx="279.6" cy="648.5" r="3.6"/>
<circle cx="275.3" cy="662.6" r="3.6"/>
<circle cx="280" cy="678.7" r="3.6"/>
<circle cx="292.3" cy="685.3" r="3.6"/>
<circle cx="306.4" cy="682.5" r="3.6"/>
<circle cx="313" cy="690" r="3.6"/>
<circle cx="328.1" cy="696.6" r="3.6"/>
<circle cx="329.4" cy="697" r="3.6"/>
<circle cx="324.7" cy="714.9" r="3.6"/>
<circle cx="331.3" cy="720.6" r="3.6"/>
<circle cx="391.7" cy="758.3" r="3.6"/>
<circle cx="377.5" cy="748.9" r="3.6"/>
<circle cx="437" cy="795.1" r="3.6"/>
<circle cx="461.5" cy="806.4" r="3.6"/>
<circle cx="480.4" cy="814.9" r="3.6"/>
<circle cx="510.6" cy="826.2" r="3.6"/>
<circle cx="515" cy="828" r="3.6"/>
</g>
<polygon points="141,832 140.5,828 141.5,820 143.8,808 145.5,795 147.4,780 147.9,766 149.9,746.6 151.8,727.2 154.2,707.8 156.2,688.5 159,676 162,669.1 166,662 173.4,658.9 186.6,657 199.8,660.8 211.1,670.2 224.3,679.6 239.4,689.1 252.6,696.6 265.8,704.2 280.9,711.7 294.2,719.2 308,727 320,735 338.9,748 357.7,757.4 376.6,768.7 395.5,776.2 414.3,785.7 433.2,797 452.1,808.3 470.9,817.7 489.8,823.4 501.1,827.2 504.9,832" fill="#3c6991" fill-opacity="0.85" filter="url(#blur3)"/>
<polygon points="141,832 140.5,828 141.5,820 143.8,808 145.5,795 147.4,780 147.9,766 149.9,746.6 151.8,727.2 154.2,707.8 156.2,688.5 159,676 162,669.1 166,662 173.4,658.9 186.6,657 199.8,660.8 211.1,670.2 224.3,679.6 239.4,689.1 252.6,696.6 265.8,704.2 280.9,711.7 294.2,719.2 308,727 320,735 338.9,748 357.7,757.4 376.6,768.7 395.5,776.2 414.3,785.7 433.2,797 452.1,808.3 470.9,817.7 489.8,823.4 501.1,827.2 504.9,832" fill="#3c6991" filter="url(#blur1)"/>
</g>
<line x1="142.5" y1="768.2" x2="417.2" y2="826.2" stroke="#000" stroke-width="6.2" stroke-linecap="butt"/>
<rect x="122.5" y="521.5" width="413" height="319.3" fill="none" stroke="#000" stroke-width="1.3"/>
<line x1="122.5" y1="521.5" x2="122.5" y2="840.8" stroke="#111" stroke-width="1.5" stroke-linecap="butt"/>
<line x1="535.5" y1="521.5" x2="535.5" y2="840.8" stroke="#111" stroke-width="1.7" stroke-linecap="butt"/>
<line x1="109.3" y1="536" x2="122.3" y2="536" stroke="#444" stroke-width="1.4" stroke-linecap="butt"/>
<text class="tk" transform="translate(94.3,543.3) scale(1.12,1)" font-size="23" text-anchor="end">80</text>
<line x1="109.3" y1="608.4" x2="122.3" y2="608.4" stroke="#444" stroke-width="1.4" stroke-linecap="butt"/>
<text class="tk" transform="translate(94.3,615.7) scale(1.12,1)" font-size="23" text-anchor="end">60</text>
<line x1="109.3" y1="680.8" x2="122.3" y2="680.8" stroke="#444" stroke-width="1.4" stroke-linecap="butt"/>
<text class="tk" transform="translate(94.3,688.1) scale(1.12,1)" font-size="23" text-anchor="end">40</text>
<line x1="109.3" y1="753.2" x2="122.3" y2="753.2" stroke="#444" stroke-width="1.4" stroke-linecap="butt"/>
<text class="tk" transform="translate(94.3,760.5) scale(1.12,1)" font-size="23" text-anchor="end">20</text>
<line x1="109.3" y1="825.6" x2="122.3" y2="825.6" stroke="#444" stroke-width="1.4" stroke-linecap="butt"/>
<text class="tk" transform="translate(94.3,832.9) scale(1.12,1)" font-size="23" text-anchor="end">0</text>
<line x1="140.8" y1="840.8" x2="140.8" y2="853.8" stroke="#444" stroke-width="1.4" stroke-linecap="butt"/>
<text class="tk" transform="translate(137.6,881.7) scale(1.14,1)" font-size="23" text-anchor="middle">0</text>
<line x1="282.9" y1="840.8" x2="282.9" y2="853.8" stroke="#444" stroke-width="1.4" stroke-linecap="butt"/>
<text class="tk" transform="translate(281.2,881.7) scale(1.14,1)" font-size="23" text-anchor="middle">200</text>
<line x1="424" y1="840.8" x2="424" y2="853.8" stroke="#444" stroke-width="1.4" stroke-linecap="butt"/>
<text class="tk" transform="translate(424.2,881.7) scale(1.14,1)" font-size="23" text-anchor="middle">400</text>
<rect x="640.5" y="521.5" width="418.1" height="319.2" fill="none" stroke="#000" stroke-width="1.3"/>
<line x1="640.5" y1="521.5" x2="640.5" y2="840.7" stroke="#3a3a3a" stroke-width="1.5" stroke-linecap="butt"/>
<line x1="1058.6" y1="521.5" x2="1058.6" y2="840.7" stroke="#3a3a3a" stroke-width="1.7" stroke-linecap="butt"/>
<line x1="627.2" y1="535.8" x2="640.2" y2="535.8" stroke="#444" stroke-width="1.4" stroke-linecap="butt"/>
<text class="tk" transform="translate(615.9,543.1) scale(1.12,1)" font-size="23" text-anchor="end">80</text>
<line x1="627.2" y1="608.3" x2="640.2" y2="608.3" stroke="#444" stroke-width="1.4" stroke-linecap="butt"/>
<text class="tk" transform="translate(615.9,615.6) scale(1.12,1)" font-size="23" text-anchor="end">60</text>
<line x1="627.2" y1="680.7" x2="640.2" y2="680.7" stroke="#444" stroke-width="1.4" stroke-linecap="butt"/>
<text class="tk" transform="translate(615.9,688) scale(1.12,1)" font-size="23" text-anchor="end">40</text>
<line x1="627.2" y1="753.3" x2="640.2" y2="753.3" stroke="#444" stroke-width="1.4" stroke-linecap="butt"/>
<text class="tk" transform="translate(615.9,760.6) scale(1.12,1)" font-size="23" text-anchor="end">20</text>
<line x1="627.2" y1="825.8" x2="640.2" y2="825.8" stroke="#444" stroke-width="1.4" stroke-linecap="butt"/>
<text class="tk" transform="translate(615.9,833.1) scale(1.12,1)" font-size="23" text-anchor="end">0</text>
<line x1="664.5" y1="756.5" x2="664.5" y2="666.4" stroke="#333333" stroke-width="1.8" stroke-linecap="butt"/>
<line x1="664.5" y1="819.5" x2="664.5" y2="826.8" stroke="#333333" stroke-width="1.8" stroke-linecap="butt"/>
<rect x="661.75" y="550.25" width="5.5" height="118.4" fill="#333333" rx="2.75"/>
<circle cx="664.5" cy="543.4" r="2.3" fill="#5a5a5a" stroke="#333333" stroke-width="1"/>
<line x1="681.5" y1="737.9" x2="681.5" y2="652.4" stroke="#333333" stroke-width="1.8" stroke-linecap="butt"/>
<line x1="681.5" y1="796.9" x2="681.5" y2="826.8" stroke="#333333" stroke-width="1.8" stroke-linecap="butt"/>
<rect x="678.75" y="583.25" width="5.5" height="71.4" fill="#333333" rx="2.75"/>
<circle cx="681.5" cy="566.5" r="2.3" fill="#5a5a5a" stroke="#333333" stroke-width="1"/>
<circle cx="681.5" cy="569.5" r="2.3" fill="#5a5a5a" stroke="#333333" stroke-width="1"/>
<circle cx="681.5" cy="574" r="2.3" fill="#5a5a5a" stroke="#333333" stroke-width="1"/>
<circle cx="681.5" cy="580.2" r="2.3" fill="#5a5a5a" stroke="#333333" stroke-width="1"/>
<line x1="698.5" y1="742.2" x2="698.5" y2="647.7" stroke="#333333" stroke-width="1.8" stroke-linecap="butt"/>
<line x1="698.5" y1="807" x2="698.5" y2="826.8" stroke="#333333" stroke-width="1.8" stroke-linecap="butt"/>
<rect x="695.75" y="636.15" width="5.5" height="13.8" fill="#333333" rx="2.75"/>
<circle cx="698.5" cy="632.4" r="2.3" fill="#5a5a5a" stroke="#333333" stroke-width="1"/>
<circle cx="698.5" cy="618.5" r="2.3" fill="#5a5a5a" stroke="#333333" stroke-width="1"/>
<line x1="732" y1="766.2" x2="732" y2="688.9" stroke="#333333" stroke-width="1.8" stroke-linecap="butt"/>
<line x1="732" y1="819.5" x2="732" y2="826.8" stroke="#333333" stroke-width="1.8" stroke-linecap="butt"/>
<rect x="729.25" y="595.35" width="5.5" height="95.8" fill="#333333" rx="2.75"/>
<circle cx="732" cy="592" r="2.3" fill="#5a5a5a" stroke="#333333" stroke-width="1"/>
<circle cx="732" cy="588" r="2.3" fill="#5a5a5a" stroke="#333333" stroke-width="1"/>
<circle cx="732" cy="584.8" r="2.3" fill="#5a5a5a" stroke="#333333" stroke-width="1"/>
<circle cx="732" cy="575.7" r="2.3" fill="#5a5a5a" stroke="#333333" stroke-width="1"/>
<line x1="749" y1="755.5" x2="749" y2="679.2" stroke="#333333" stroke-width="1.8" stroke-linecap="butt"/>
<line x1="749" y1="809.2" x2="749" y2="826.8" stroke="#333333" stroke-width="1.8" stroke-linecap="butt"/>
<rect x="746.25" y="600.75" width="5.5" height="80.7" fill="#333333" rx="2.75"/>
<circle cx="749" cy="597.6" r="2.3" fill="#5a5a5a" stroke="#333333" stroke-width="1"/>
<line x1="766" y1="763" x2="766" y2="688.9" stroke="#333333" stroke-width="1.8" stroke-linecap="butt"/>
<line x1="766" y1="814.5" x2="766" y2="826.8" stroke="#333333" stroke-width="1.8" stroke-linecap="butt"/>
<rect x="763.25" y="660.85" width="5.5" height="30.3" fill="#333333" rx="2.75"/>
<circle cx="766" cy="658.8" r="2.3" fill="#5a5a5a" stroke="#333333" stroke-width="1"/>
<circle cx="766" cy="656" r="2.3" fill="#5a5a5a" stroke="#333333" stroke-width="1"/>
<circle cx="766" cy="653.5" r="2.3" fill="#5a5a5a" stroke="#333333" stroke-width="1"/>
<line x1="799.5" y1="788" x2="799.5" y2="738.5" stroke="#333333" stroke-width="1.8" stroke-linecap="butt"/>
<line x1="799.5" y1="824.6" x2="799.5" y2="827" stroke="#333333" stroke-width="1.8" stroke-linecap="butt"/>
<rect x="796.75" y="662.25" width="5.5" height="78.5" fill="#333333" rx="2.75"/>
<circle cx="799.5" cy="659.2" r="2.3" fill="#5a5a5a" stroke="#333333" stroke-width="1"/>
<circle cx="799.5" cy="655.3" r="2.3" fill="#5a5a5a" stroke="#333333" stroke-width="1"/>
<line x1="816.5" y1="781.4" x2="816.5" y2="726" stroke="#333333" stroke-width="1.8" stroke-linecap="butt"/>
<line x1="816.5" y1="820.4" x2="816.5" y2="827" stroke="#333333" stroke-width="1.8" stroke-linecap="butt"/>
<rect x="813.75" y="676.75" width="5.5" height="51.5" fill="#333333" rx="2.75"/>
<circle cx="816.5" cy="671.1" r="2.3" fill="#5a5a5a" stroke="#333333" stroke-width="1"/>
<line x1="833.5" y1="788" x2="833.5" y2="741.1" stroke="#333333" stroke-width="1.8" stroke-linecap="butt"/>
<line x1="833.5" y1="821.7" x2="833.5" y2="827" stroke="#333333" stroke-width="1.8" stroke-linecap="butt"/>
<rect x="830.75" y="699.25" width="5.5" height="44.1" fill="#333333" rx="2.75"/>
<circle cx="833.5" cy="695.6" r="2.3" fill="#5a5a5a" stroke="#333333" stroke-width="1"/>
<line x1="867" y1="811.1" x2="867" y2="792" stroke="#333333" stroke-width="1.8" stroke-linecap="butt"/>
<rect x="864.25" y="717.75" width="5.5" height="76.5" fill="#333333" rx="2.75"/>
<circle cx="867" cy="710.8" r="2.3" fill="#5a5a5a" stroke="#333333" stroke-width="1"/>
<circle cx="867" cy="708" r="2.3" fill="#5a5a5a" stroke="#333333" stroke-width="1"/>
<circle cx="867" cy="696.9" r="2.3" fill="#5a5a5a" stroke="#333333" stroke-width="1"/>
<line x1="884" y1="808.2" x2="884" y2="786.7" stroke="#333333" stroke-width="1.8" stroke-linecap="butt"/>
<rect x="881.25" y="726.95" width="5.5" height="62" fill="#333333" rx="2.75"/>
<line x1="901" y1="813.5" x2="901" y2="797.3" stroke="#333333" stroke-width="1.8" stroke-linecap="butt"/>
<rect x="898.25" y="741.55" width="5.5" height="58" fill="#333333" rx="2.75"/>
<circle cx="901" cy="730.6" r="2.3" fill="#5a5a5a" stroke="#333333" stroke-width="1"/>
<rect x="931.75" y="759.75" width="5.5" height="61.5" fill="#333333" rx="2.75"/>
<circle cx="934.5" cy="759.6" r="2.3" fill="#5a5a5a" stroke="#333333" stroke-width="1"/>
<rect x="948.75" y="771.95" width="5.5" height="48" fill="#333333" rx="2.75"/>
<circle cx="951.5" cy="763.6" r="2.3" fill="#5a5a5a" stroke="#333333" stroke-width="1"/>
<rect x="965.75" y="782.45" width="5.5" height="39.8" fill="#333333" rx="2.75"/>
<circle cx="968.5" cy="777.5" r="2.3" fill="#5a5a5a" stroke="#333333" stroke-width="1"/>
<rect x="999.25" y="806.25" width="5.5" height="20" fill="#333333" rx="2.75"/>
<rect x="1016.25" y="808.85" width="5.5" height="17.4" fill="#333333" rx="2.75"/>
<circle cx="1019" cy="806.5" r="2.3" fill="#5a5a5a" stroke="#333333" stroke-width="1"/>
<rect x="1033.25" y="815.45" width="5.5" height="10.8" fill="#333333" rx="2.75"/>
<rect x="656.9" y="757.4" width="15.2" height="61.2" fill="#a57bba" stroke="#333333" stroke-width="2.2"/>
<line x1="656.9" y1="788.3" x2="672.1" y2="788.3" stroke="#333333" stroke-width="4" stroke-linecap="butt"/>
<rect x="673.9" y="738.8" width="15.2" height="57.2" fill="#62b2b6" stroke="#333333" stroke-width="2.2"/>
<line x1="673.9" y1="766.2" x2="689.1" y2="766.2" stroke="#333333" stroke-width="4" stroke-linecap="butt"/>
<rect x="690.9" y="743.1" width="15.2" height="63" fill="#e1e168" stroke="#333333" stroke-width="2.2"/>
<line x1="690.9" y1="777.6" x2="706.1" y2="777.6" stroke="#333333" stroke-width="4" stroke-linecap="butt"/>
<rect x="724.4" y="767.1" width="15.2" height="51.5" fill="#a57bba" stroke="#333333" stroke-width="2.2"/>
<line x1="724.4" y1="793.7" x2="739.6" y2="793.7" stroke="#333333" stroke-width="4" stroke-linecap="butt"/>
<rect x="741.4" y="756.4" width="15.2" height="51.9" fill="#62b2b6" stroke="#333333" stroke-width="2.2"/>
<line x1="741.4" y1="780.2" x2="756.6" y2="780.2" stroke="#333333" stroke-width="4" stroke-linecap="butt"/>
<rect x="758.4" y="763.9" width="15.2" height="49.7" fill="#e1e168" stroke="#333333" stroke-width="2.2"/>
<line x1="758.4" y1="790.9" x2="773.6" y2="790.9" stroke="#333333" stroke-width="4" stroke-linecap="butt"/>
<rect x="791.9" y="788.9" width="15.2" height="34.8" fill="#a57bba" stroke="#333333" stroke-width="2.2"/>
<line x1="791.9" y1="807.8" x2="807.1" y2="807.8" stroke="#333333" stroke-width="4" stroke-linecap="butt"/>
<rect x="808.9" y="782.3" width="15.2" height="37.2" fill="#62b2b6" stroke="#333333" stroke-width="2.2"/>
<line x1="808.9" y1="800.6" x2="824.1" y2="800.6" stroke="#333333" stroke-width="4" stroke-linecap="butt"/>
<rect x="825.9" y="788.9" width="15.2" height="31.9" fill="#e1e168" stroke="#333333" stroke-width="2.2"/>
<line x1="825.9" y1="808.5" x2="841.1" y2="808.5" stroke="#333333" stroke-width="4" stroke-linecap="butt"/>
<rect x="859.4" y="812" width="15.2" height="14.8" fill="#a57bba" stroke="#333333" stroke-width="2.2"/>
<line x1="859.4" y1="821.7" x2="874.6" y2="821.7" stroke="#333333" stroke-width="4" stroke-linecap="butt"/>
<rect x="876.4" y="809.1" width="15.2" height="17.7" fill="#62b2b6" stroke="#333333" stroke-width="2.2"/>
<line x1="876.4" y1="821.7" x2="891.6" y2="821.7" stroke="#333333" stroke-width="4" stroke-linecap="butt"/>
<rect x="893.4" y="814.4" width="15.2" height="12.4" fill="#e1e168" stroke="#333333" stroke-width="2.2"/>
<line x1="893.4" y1="822" x2="908.6" y2="822" stroke="#333333" stroke-width="4" stroke-linecap="butt"/>
<rect x="924.9" y="819" width="19.2" height="10.1" fill="#333333"/>
<line x1="927.6" y1="822.1" x2="941.4" y2="822.1" stroke="#a57bba" stroke-width="1.3" stroke-linecap="butt"/>
<rect x="941.9" y="819" width="19.2" height="10.1" fill="#333333"/>
<line x1="944.6" y1="822.4" x2="958.4" y2="822.4" stroke="#62b2b6" stroke-width="1.3" stroke-linecap="butt"/>
<rect x="958.9" y="820.6" width="19.2" height="8.5" fill="#333333"/>
<rect x="992.4" y="823.6" width="19.2" height="6.1" fill="#333333"/>
<rect x="1009.4" y="823.6" width="19.2" height="6.1" fill="#333333"/>
<rect x="1026.4" y="823.6" width="19.2" height="6.1" fill="#333333"/>
<line x1="681.5" y1="840.5" x2="681.5" y2="853" stroke="#333333" stroke-width="1.4" stroke-linecap="butt"/>
<text class="tk" transform="translate(688.1,865.6) rotate(-90) scale(1.0,1)" font-size="23" text-anchor="end">&lt;90</text>
<line x1="749" y1="840.5" x2="749" y2="853" stroke="#333333" stroke-width="1.4" stroke-linecap="butt"/>
<text class="tk" transform="translate(755.6,865.6) rotate(-90) scale(1.024,1)" font-size="23" text-anchor="end">90–180</text>
<line x1="816.5" y1="840.5" x2="816.5" y2="853" stroke="#333333" stroke-width="1.4" stroke-linecap="butt"/>
<text class="tk" transform="translate(823.1,865.6) rotate(-90) scale(1.02,1)" font-size="23" text-anchor="end">180–270</text>
<line x1="884" y1="840.5" x2="884" y2="853" stroke="#333333" stroke-width="1.4" stroke-linecap="butt"/>
<text class="tk" transform="translate(890.6,865.6) rotate(-90) scale(1.06,1)" font-size="23" text-anchor="end">270–360</text>
<line x1="951.5" y1="840.5" x2="951.5" y2="853" stroke="#333333" stroke-width="1.4" stroke-linecap="butt"/>
<text class="tk" transform="translate(958.1,865.6) rotate(-90) scale(1.097,1)" font-size="23" text-anchor="end">360–450</text>
<line x1="1019" y1="840.5" x2="1019" y2="853" stroke="#333333" stroke-width="1.4" stroke-linecap="butt"/>
<text class="tk" transform="translate(1025.6,865.6) rotate(-90) scale(1.024,1)" font-size="23" text-anchor="end">&gt;450</text>
<rect x="883.9" y="579.4" width="23.1" height="22.2" fill="#a57bba" stroke="#0f2030" stroke-width="1.8"/>
<rect x="883.9" y="607" width="23.1" height="22.7" fill="#62b2b6" stroke="#0f2030" stroke-width="1.8"/>
<rect x="883.9" y="635.8" width="23.1" height="22.8" fill="#e1e168" stroke="#0f2030" stroke-width="1.8"/>
<g clip-path="url(#ce)">
<polygon points="256,1315 259,1310 266,1303 286.6,1286 309.3,1263.4 323.4,1235.1 337.6,1212.5 351.7,1192.6 365.9,1175.7 377.2,1162.6 386.6,1134.3 396,1119.2 401,1095 405,1072 410,1060 416,1058 421,1068 423,1090 428.1,1111.7 435.7,1124.9 443.2,1141.9 452.6,1153.2 462.1,1160.8 473.4,1170.2 484.7,1175.8 490.4,1198.3 501.7,1226.6 510.2,1249.3 513,1269.1 518.7,1288.9 518.7,1315" fill="#cf7da8" fill-opacity="0.45" filter="url(#blur2)"/>
<polygon points="258.4,1315 260.2,1312 267.65,1306.3 289.31,1291.45 314.65,1270.91 334.3,1241.9 348.89,1218.17 361.68,1197.61 374.35,1179.09 383.3,1166.65 392.3,1145.8 401.28,1135.08 404.28,1120.56 409.33,1106.43 414.9,1098.9 419.32,1097.6 422.32,1103.6 423.52,1116.8 426.58,1129.82 432.39,1138.05 441.32,1149.37 449.39,1157.71 459.56,1165.27 470.36,1173.2 479.06,1179.16 485.76,1200.29 496.26,1229.32 503.87,1250.23 506.69,1269.99 511.18,1289.83 511.47,1313.65" fill="#cf7da8" fill-opacity="0.7" filter="url(#blur2)"/>
<g fill="#cf7da8" fill-opacity="0.12" stroke="#cf7da8" stroke-opacity="0.22" stroke-width="0.9">
<circle cx="289.5" cy="1283.64" r="3.6"/>
<circle cx="328.12" cy="1268.52" r="3.6"/>
<circle cx="306" cy="1288.9" r="3.6"/>
<circle cx="413.57" cy="1086.13" r="3.6"/>
<circle cx="408.95" cy="1099.73" r="3.6"/>
<circle cx="416.15" cy="1093.57" r="3.6"/>
<circle cx="451.67" cy="1166.63" r="3.6"/>
<circle cx="265.67" cy="1312.44" r="3.6"/>
<circle cx="404.12" cy="1090.38" r="3.6"/>
<circle cx="375.63" cy="1202.2" r="3.6"/>
<circle cx="333.3" cy="1246.11" r="3.6"/>
<circle cx="314.56" cy="1272.13" r="3.6"/>
<circle cx="416.62" cy="1102.05" r="3.6"/>
<circle cx="379.29" cy="1195.93" r="3.6"/>
<circle cx="342.37" cy="1261.45" r="3.6"/>
<circle cx="314.62" cy="1260.7" r="3.6"/>
<circle cx="505.95" cy="1312.69" r="3.6"/>
<circle cx="378.55" cy="1192.33" r="3.6"/>
<circle cx="352.02" cy="1222.2" r="3.6"/>
<circle cx="320.01" cy="1279.68" r="3.6"/>
<circle cx="415.84" cy="1112.49" r="3.6"/>
<circle cx="333.25" cy="1266.07" r="3.6"/>
<circle cx="421.29" cy="1143.53" r="3.6"/>
<circle cx="398.7" cy="1142.87" r="3.6"/>
<circle cx="487.08" cy="1205.25" r="3.6"/>
<circle cx="497.85" cy="1253.98" r="3.6"/>
<circle cx="505.42" cy="1243.65" r="3.6"/>
<circle cx="409.29" cy="1107.09" r="3.6"/>
<circle cx="463.03" cy="1174.32" r="3.6"/>
<circle cx="407.5" cy="1106.91" r="3.6"/>
<circle cx="300.96" cy="1278.81" r="3.6"/>
<circle cx="424.86" cy="1139.63" r="3.6"/>
<circle cx="444.16" cy="1148.89" r="3.6"/>
<circle cx="350.56" cy="1229.54" r="3.6"/>
<circle cx="261.24" cy="1312.12" r="3.6"/>
<circle cx="329.87" cy="1265.39" r="3.6"/>
<circle cx="515.55" cy="1307.57" r="3.6"/>
<circle cx="408.24" cy="1107.24" r="3.6"/>
<circle cx="417.33" cy="1154.87" r="3.6"/>
<circle cx="302.42" cy="1287.83" r="3.6"/>
<circle cx="426.41" cy="1137.21" r="3.6"/>
<circle cx="390.32" cy="1171.14" r="3.6"/>
<circle cx="440.37" cy="1138.42" r="3.6"/>
<circle cx="340.14" cy="1239.24" r="3.6"/>
<circle cx="321.23" cy="1264.61" r="3.6"/>
<circle cx="308.63" cy="1274.36" r="3.6"/>
<circle cx="490.99" cy="1206.05" r="3.6"/>
<circle cx="413.91" cy="1089.51" r="3.6"/>
<circle cx="421.49" cy="1122" r="3.6"/>
<circle cx="409.68" cy="1095.74" r="3.6"/>
<circle cx="493.57" cy="1234.63" r="3.6"/>
<circle cx="407.15" cy="1126.7" r="3.6"/>
<circle cx="400.71" cy="1124.8" r="3.6"/>
<circle cx="396.26" cy="1138.22" r="3.6"/>
<circle cx="373.26" cy="1178.76" r="3.6"/>
<circle cx="342.68" cy="1219.06" r="3.6"/>
<circle cx="321.74" cy="1274.26" r="3.6"/>
<circle cx="391.14" cy="1137.36" r="3.6"/>
<circle cx="270.21" cy="1302.18" r="3.6"/>
<circle cx="391.83" cy="1145.28" r="3.6"/>
<circle cx="455.58" cy="1167.58" r="3.6"/>
<circle cx="348.63" cy="1200.97" r="3.6"/>
<circle cx="423.3" cy="1146.17" r="3.6"/>
<circle cx="502.73" cy="1307.67" r="3.6"/>
<circle cx="388.95" cy="1139.77" r="3.6"/>
<circle cx="429.6" cy="1158.06" r="3.6"/>
<circle cx="476.01" cy="1177.39" r="3.6"/>
<circle cx="428.55" cy="1149.89" r="3.6"/>
<circle cx="419.73" cy="1082.32" r="3.6"/>
<circle cx="415.88" cy="1111.66" r="3.6"/>
<circle cx="394" cy="1140.05" r="3.6"/>
<circle cx="497.87" cy="1257.86" r="3.6"/>
<circle cx="306" cy="1271.35" r="3.6"/>
<circle cx="409.72" cy="1094.18" r="3.6"/>
<circle cx="459.65" cy="1167.52" r="3.6"/>
<circle cx="416.94" cy="1118" r="3.6"/>
<circle cx="310.44" cy="1288.13" r="3.6"/>
<circle cx="338" cy="1219.76" r="3.6"/>
<circle cx="370.02" cy="1209.03" r="3.6"/>
<circle cx="504.24" cy="1234.71" r="3.6"/>
<circle cx="499.73" cy="1275.91" r="3.6"/>
<circle cx="332.56" cy="1226.81" r="3.6"/>
<circle cx="276.7" cy="1294.64" r="3.6"/>
<circle cx="475.44" cy="1187.01" r="3.6"/>
<circle cx="485.22" cy="1199.51" r="3.6"/>
<circle cx="434.82" cy="1125.91" r="3.6"/>
<circle cx="376.21" cy="1192.44" r="3.6"/>
<circle cx="483.18" cy="1211.71" r="3.6"/>
<circle cx="358.82" cy="1232.46" r="3.6"/>
<circle cx="415.89" cy="1134.59" r="3.6"/>
<circle cx="417.34" cy="1143.28" r="3.6"/>
<circle cx="497.15" cy="1221.37" r="3.6"/>
<circle cx="343.15" cy="1227.51" r="3.6"/>
<circle cx="365.57" cy="1223.53" r="3.6"/>
<circle cx="406.65" cy="1151.45" r="3.6"/>
<circle cx="333.92" cy="1248.9" r="3.6"/>
<circle cx="372.47" cy="1205.18" r="3.6"/>
<circle cx="494.19" cy="1225.69" r="3.6"/>
<circle cx="293.69" cy="1289.51" r="3.6"/>
<circle cx="371.19" cy="1197.13" r="3.6"/>
<circle cx="349.41" cy="1230.1" r="3.6"/>
<circle cx="456.49" cy="1156.41" r="3.6"/>
<circle cx="510.58" cy="1266.67" r="3.6"/>
<circle cx="326.72" cy="1247.38" r="3.6"/>
<circle cx="501.62" cy="1311.02" r="3.6"/>
<circle cx="476.55" cy="1179.04" r="3.6"/>
<circle cx="489.4" cy="1207.33" r="3.6"/>
<circle cx="379.29" cy="1172.04" r="3.6"/>
<circle cx="341.11" cy="1261.89" r="3.6"/>
<circle cx="493.88" cy="1233.57" r="3.6"/>
<circle cx="325.28" cy="1259.93" r="3.6"/>
<circle cx="344.37" cy="1229.99" r="3.6"/>
<circle cx="505.54" cy="1243.13" r="3.6"/>
<circle cx="385.36" cy="1150.69" r="3.6"/>
<circle cx="470.12" cy="1179.27" r="3.6"/>
<circle cx="329.06" cy="1262.94" r="3.6"/>
<circle cx="391.15" cy="1174.29" r="3.6"/>
<circle cx="504.47" cy="1236.91" r="3.6"/>
<circle cx="504.24" cy="1267.24" r="3.6"/>
<circle cx="480.94" cy="1183" r="3.6"/>
<circle cx="343.91" cy="1236.19" r="3.6"/>
<circle cx="398.57" cy="1124.29" r="3.6"/>
<circle cx="509.06" cy="1270.52" r="3.6"/>
<circle cx="343.43" cy="1234.05" r="3.6"/>
<circle cx="440.02" cy="1147.85" r="3.6"/>
<circle cx="299.48" cy="1288.84" r="3.6"/>
<circle cx="381.2" cy="1181.35" r="3.6"/>
<circle cx="395.53" cy="1130.05" r="3.6"/>
<circle cx="347.4" cy="1228.01" r="3.6"/>
<circle cx="413.5" cy="1157.41" r="3.6"/>
<circle cx="419.45" cy="1081.94" r="3.6"/>
<circle cx="354.83" cy="1238.54" r="3.6"/>
<circle cx="377.93" cy="1186.34" r="3.6"/>
<circle cx="367.31" cy="1188.67" r="3.6"/>
<circle cx="364.44" cy="1182.2" r="3.6"/>
<circle cx="426.53" cy="1144.85" r="3.6"/>
<circle cx="463.87" cy="1165.61" r="3.6"/>
<circle cx="324.95" cy="1246.74" r="3.6"/>
<circle cx="390.15" cy="1164.68" r="3.6"/>
<circle cx="377.08" cy="1172.66" r="3.6"/>
<circle cx="335.36" cy="1247.71" r="3.6"/>
<circle cx="290.22" cy="1284.19" r="3.6"/>
<circle cx="347.17" cy="1229.04" r="3.6"/>
<circle cx="508.09" cy="1266.82" r="3.6"/>
<circle cx="503.78" cy="1242" r="3.6"/>
<circle cx="438.76" cy="1138.08" r="3.6"/>
<circle cx="419.35" cy="1068.17" r="3.6"/>
<circle cx="348.17" cy="1217.68" r="3.6"/>
<circle cx="345.39" cy="1233.45" r="3.6"/>
<circle cx="422.56" cy="1108.72" r="3.6"/>
<circle cx="500.57" cy="1291.1" r="3.6"/>
<circle cx="266.14" cy="1307.11" r="3.6"/>
<circle cx="360.21" cy="1191.27" r="3.6"/>
<circle cx="369.67" cy="1193.22" r="3.6"/>
<circle cx="391.87" cy="1129.79" r="3.6"/>
<circle cx="318.58" cy="1245.98" r="3.6"/>
<circle cx="264.08" cy="1313.56" r="3.6"/>
<circle cx="297.92" cy="1289.34" r="3.6"/>
<circle cx="411.32" cy="1158.21" r="3.6"/>
<circle cx="507.23" cy="1299.28" r="3.6"/>
<circle cx="377.23" cy="1188.27" r="3.6"/>
<circle cx="515.33" cy="1313.51" r="3.6"/>
<circle cx="321.85" cy="1267.9" r="3.6"/>
<circle cx="509.49" cy="1256.56" r="3.6"/>
<circle cx="279.81" cy="1303.26" r="3.6"/>
<circle cx="409.12" cy="1079.44" r="3.6"/>
<circle cx="422.91" cy="1135.43" r="3.6"/>
<circle cx="413.68" cy="1072.4" r="3.6"/>
<circle cx="490.35" cy="1230.62" r="3.6"/>
<circle cx="454.89" cy="1167.77" r="3.6"/>
<circle cx="362.43" cy="1182.62" r="3.6"/>
<circle cx="321.48" cy="1270.99" r="3.6"/>
<circle cx="329.6" cy="1271.34" r="3.6"/>
<circle cx="393.6" cy="1135.69" r="3.6"/>
<circle cx="411" cy="1079.94" r="3.6"/>
<circle cx="496.85" cy="1255.45" r="3.6"/>
<circle cx="407.61" cy="1129.27" r="3.6"/>
<circle cx="291.92" cy="1295.75" r="3.6"/>
<circle cx="402.08" cy="1116.03" r="3.6"/>
<circle cx="416.19" cy="1085.29" r="3.6"/>
<circle cx="431.1" cy="1126.05" r="3.6"/>
<circle cx="405.98" cy="1071.87" r="3.6"/>
<circle cx="416.31" cy="1093.29" r="3.6"/>
<circle cx="490.01" cy="1228.28" r="3.6"/>
<circle cx="336.36" cy="1215.79" r="3.6"/>
<circle cx="302.64" cy="1293.31" r="3.6"/>
<circle cx="382.21" cy="1169.27" r="3.6"/>
<circle cx="411.87" cy="1146.98" r="3.6"/>
<circle cx="485.95" cy="1189.06" r="3.6"/>
<circle cx="407.4" cy="1151.24" r="3.6"/>
<circle cx="390.09" cy="1150.23" r="3.6"/>
<circle cx="430.49" cy="1144.06" r="3.6"/>
<circle cx="336.12" cy="1215.58" r="3.6"/>
<circle cx="401.99" cy="1094.8" r="3.6"/>
<circle cx="329.41" cy="1266.02" r="3.6"/>
<circle cx="509.02" cy="1312.56" r="3.6"/>
<circle cx="339.41" cy="1244.11" r="3.6"/>
<circle cx="382.23" cy="1155.76" r="3.6"/>
<circle cx="308.62" cy="1287.54" r="3.6"/>
<circle cx="360.79" cy="1188.68" r="3.6"/>
<circle cx="267.17" cy="1309.18" r="3.6"/>
<circle cx="351.25" cy="1210.79" r="3.6"/>
<circle cx="504.72" cy="1302.5" r="3.6"/>
<circle cx="361" cy="1234.24" r="3.6"/>
<circle cx="369.21" cy="1199.95" r="3.6"/>
<circle cx="350.46" cy="1239.85" r="3.6"/>
<circle cx="507.31" cy="1290.96" r="3.6"/>
<circle cx="314.2" cy="1287.9" r="3.6"/>
<circle cx="413" cy="1108.06" r="3.6"/>
<circle cx="411.06" cy="1096.82" r="3.6"/>
<circle cx="405.77" cy="1129.83" r="3.6"/>
<circle cx="419.42" cy="1155.14" r="3.6"/>
<circle cx="331.26" cy="1253.26" r="3.6"/>
<circle cx="323.08" cy="1281.77" r="3.6"/>
<circle cx="454.48" cy="1156.77" r="3.6"/>
<circle cx="397.91" cy="1134.47" r="3.6"/>
<circle cx="490.04" cy="1203.69" r="3.6"/>
<circle cx="434.35" cy="1137.54" r="3.6"/>
<circle cx="299.84" cy="1283.47" r="3.6"/>
<circle cx="311.27" cy="1271.6" r="3.6"/>
<circle cx="415.49" cy="1139.73" r="3.6"/>
<circle cx="319.51" cy="1245.74" r="3.6"/>
<circle cx="322.48" cy="1244.77" r="3.6"/>
<circle cx="348.75" cy="1237.31" r="3.6"/>
<circle cx="466.49" cy="1168.29" r="3.6"/>
<circle cx="333.69" cy="1251.32" r="3.6"/>
<circle cx="438.57" cy="1155.4" r="3.6"/>
<circle cx="502.59" cy="1275.89" r="3.6"/>
<circle cx="381.31" cy="1156.58" r="3.6"/>
<circle cx="477.99" cy="1191.93" r="3.6"/>
<circle cx="488.17" cy="1193.92" r="3.6"/>
<circle cx="425.37" cy="1138.77" r="3.6"/>
<circle cx="483.63" cy="1207.88" r="3.6"/>
<circle cx="361.01" cy="1186.96" r="3.6"/>
<circle cx="406.78" cy="1106.52" r="3.6"/>
<circle cx="422.01" cy="1153.89" r="3.6"/>
<circle cx="314.5" cy="1284.89" r="3.6"/>
<circle cx="426.67" cy="1155.98" r="3.6"/>
<circle cx="330.97" cy="1243.54" r="3.6"/>
<circle cx="425.85" cy="1116.45" r="3.6"/>
<circle cx="453.96" cy="1162.78" r="3.6"/>
<circle cx="481.74" cy="1198.23" r="3.6"/>
<circle cx="430.53" cy="1128.23" r="3.6"/>
<circle cx="362.01" cy="1190.67" r="3.6"/>
<circle cx="424.93" cy="1107.99" r="3.6"/>
<circle cx="404.73" cy="1102.39" r="3.6"/>
<circle cx="283.04" cy="1292.67" r="3.6"/>
<circle cx="343.4" cy="1249.39" r="3.6"/>
<circle cx="283.18" cy="1291.84" r="3.6"/>
<circle cx="364.7" cy="1204" r="3.6"/>
<circle cx="368.07" cy="1177.83" r="3.6"/>
<circle cx="408.09" cy="1155.27" r="3.6"/>
<circle cx="361.22" cy="1202.55" r="3.6"/>
<circle cx="267.98" cy="1310.96" r="3.6"/>
<circle cx="506.95" cy="1268.7" r="3.6"/>
<circle cx="395.26" cy="1150.88" r="3.6"/>
<circle cx="487.6" cy="1211.88" r="3.6"/>
<circle cx="327.21" cy="1254.37" r="3.6"/>
<circle cx="404.81" cy="1142.93" r="3.6"/>
<circle cx="514.06" cy="1289.78" r="3.6"/>
<circle cx="410.48" cy="1111.44" r="3.6"/>
<circle cx="418.98" cy="1063.97" r="3.6"/>
<circle cx="423.89" cy="1144.47" r="3.6"/>
<circle cx="386.33" cy="1139.24" r="3.6"/>
<circle cx="394.22" cy="1163.01" r="3.6"/>
<circle cx="422.5" cy="1151.68" r="3.6"/>
<circle cx="445.13" cy="1156" r="3.6"/>
<circle cx="349.69" cy="1239.29" r="3.6"/>
<circle cx="511.21" cy="1269.07" r="3.6"/>
<circle cx="361.01" cy="1205.97" r="3.6"/>
<circle cx="411.74" cy="1114.39" r="3.6"/>
<circle cx="432.35" cy="1127.17" r="3.6"/>
<circle cx="262.78" cy="1308.47" r="3.6"/>
<circle cx="485.97" cy="1191.51" r="3.6"/>
<circle cx="508.6" cy="1300.74" r="3.6"/>
<circle cx="349.59" cy="1212.37" r="3.6"/>
<circle cx="358.11" cy="1214.19" r="3.6"/>
<circle cx="350.76" cy="1196.14" r="3.6"/>
<circle cx="439.33" cy="1149.8" r="3.6"/>
<circle cx="489.67" cy="1223.03" r="3.6"/>
<circle cx="430.63" cy="1130.46" r="3.6"/>
<circle cx="387.85" cy="1141.55" r="3.6"/>
<circle cx="364.22" cy="1197.75" r="3.6"/>
<circle cx="376.37" cy="1203.61" r="3.6"/>
<circle cx="340.74" cy="1211.48" r="3.6"/>
<circle cx="368.16" cy="1176.53" r="3.6"/>
<circle cx="433.62" cy="1151.03" r="3.6"/>
<circle cx="408.53" cy="1116" r="3.6"/>
<circle cx="417.24" cy="1111.7" r="3.6"/>
<circle cx="492.35" cy="1208.67" r="3.6"/>
<circle cx="330.94" cy="1261.31" r="3.6"/>
<circle cx="336.73" cy="1226.57" r="3.6"/>
<circle cx="266.45" cy="1310.2" r="3.6"/>
<circle cx="513.95" cy="1299.95" r="3.6"/>
<circle cx="398.13" cy="1148.75" r="3.6"/>
<circle cx="482.99" cy="1214.74" r="3.6"/>
<circle cx="401.27" cy="1131.26" r="3.6"/>
<circle cx="294.84" cy="1288.08" r="3.6"/>
<circle cx="409.52" cy="1100.6" r="3.6"/>
<circle cx="435.74" cy="1145.13" r="3.6"/>
<circle cx="492.05" cy="1234.83" r="3.6"/>
<circle cx="289.94" cy="1293.13" r="3.6"/>
<circle cx="281.04" cy="1303.27" r="3.6"/>
<circle cx="383.29" cy="1166.37" r="3.6"/>
<circle cx="497.43" cy="1240.05" r="3.6"/>
<circle cx="512.23" cy="1279.3" r="3.6"/>
<circle cx="495.41" cy="1213.47" r="3.6"/>
<circle cx="426.69" cy="1126.51" r="3.6"/>
<circle cx="509.09" cy="1285.26" r="3.6"/>
<circle cx="388.29" cy="1157.99" r="3.6"/>
<circle cx="340.64" cy="1226.51" r="3.6"/>
<circle cx="334.81" cy="1244.96" r="3.6"/>
<circle cx="420.69" cy="1076.28" r="3.6"/>
<circle cx="400.72" cy="1143.44" r="3.6"/>
<circle cx="379.87" cy="1179.15" r="3.6"/>
<circle cx="441.15" cy="1157.54" r="3.6"/>
<circle cx="415.11" cy="1098.75" r="3.6"/>
<circle cx="504.46" cy="1292.44" r="3.6"/>
<circle cx="479.35" cy="1183.03" r="3.6"/>
<circle cx="411.68" cy="1060.09" r="3.6"/>
<circle cx="358.65" cy="1196.72" r="3.6"/>
<circle cx="261.22" cy="1308.72" r="3.6"/>
<circle cx="436.11" cy="1140.73" r="3.6"/>
<circle cx="393.68" cy="1134.36" r="3.6"/>
<circle cx="350.11" cy="1210.39" r="3.6"/>
<circle cx="488.9" cy="1194.67" r="3.6"/>
<circle cx="432.2" cy="1127.77" r="3.6"/>
<circle cx="264.23" cy="1313.93" r="3.6"/>
<circle cx="502.24" cy="1296.05" r="3.6"/>
<circle cx="364.62" cy="1227.39" r="3.6"/>
<circle cx="379.6" cy="1163.31" r="3.6"/>
<circle cx="381.55" cy="1182.89" r="3.6"/>
<circle cx="289.6" cy="1300.26" r="3.6"/>
<circle cx="506.17" cy="1291.93" r="3.6"/>
<circle cx="361.65" cy="1221.13" r="3.6"/>
<circle cx="402.52" cy="1151.42" r="3.6"/>
<circle cx="417" cy="1089.95" r="3.6"/>
<circle cx="400.32" cy="1161.51" r="3.6"/>
<circle cx="345.77" cy="1202.04" r="3.6"/>
<circle cx="311.08" cy="1272.82" r="3.6"/>
<circle cx="357.28" cy="1216.5" r="3.6"/>
<circle cx="354.94" cy="1196.71" r="3.6"/>
<circle cx="403.02" cy="1094.62" r="3.6"/>
<circle cx="451.91" cy="1154.3" r="3.6"/>
<circle cx="407.76" cy="1070.55" r="3.6"/>
<circle cx="427.52" cy="1127.91" r="3.6"/>
<circle cx="320.87" cy="1242.61" r="3.6"/>
<circle cx="406" cy="1134.74" r="3.6"/>
<circle cx="506.05" cy="1311.72" r="3.6"/>
<circle cx="321.7" cy="1247.88" r="3.6"/>
<circle cx="197.26" cy="1288.68" r="3.6"/>
<circle cx="208.3" cy="1290.38" r="3.6"/>
<circle cx="215.09" cy="1289.53" r="3.6"/>
<circle cx="221.88" cy="1289.53" r="3.6"/>
<circle cx="205.75" cy="1294.62" r="3.6"/>
<circle cx="219.34" cy="1294.62" r="3.6"/>
<circle cx="223.58" cy="1295.47" r="3.6"/>
<circle cx="211.7" cy="1301.41" r="3.6"/>
<circle cx="212.55" cy="1309.06" r="3.6"/>
<circle cx="195.56" cy="1303.11" r="3.6"/>
<circle cx="238.02" cy="1294.62" r="3.6"/>
<circle cx="237.17" cy="1309.06" r="3.6"/>
<circle cx="249.05" cy="1294.62" r="3.6"/>
<circle cx="249.05" cy="1308.21" r="3.6"/>
<circle cx="255.85" cy="1288.68" r="3.6"/>
<circle cx="259.24" cy="1293.77" r="3.6"/>
<circle cx="260.94" cy="1288.68" r="3.6"/>
<circle cx="274.53" cy="1283.58" r="3.6"/>
<circle cx="187.07" cy="1294.62" r="3.6"/>
<circle cx="186.23" cy="1305.66" r="3.6"/>
<circle cx="125.94" cy="1300.57" r="3.6"/>
<circle cx="125.94" cy="1308.21" r="3.6"/>
<circle cx="136.98" cy="1297.17" r="3.6"/>
<circle cx="138.68" cy="1308.21" r="3.6"/>
<circle cx="150.57" cy="1294.62" r="3.6"/>
<circle cx="156.51" cy="1293.77" r="3.6"/>
<circle cx="163.81" cy="1293.77" r="3.6"/>
<circle cx="169.24" cy="1307.02" r="3.6"/>
<circle cx="198.11" cy="1294.62" r="3.6"/>
<circle cx="245.66" cy="1303.96" r="3.6"/>
<circle cx="254.15" cy="1302.26" r="3.6"/>
<circle cx="262.64" cy="1297.17" r="3.6"/>
<circle cx="411.1" cy="1057" r="3.6"/>
<circle cx="417.7" cy="1060.8" r="3.6"/>
<circle cx="429.1" cy="1062.6" r="3.6"/>
<circle cx="407.4" cy="1066.4" r="3.6"/>
<circle cx="406.4" cy="1075.8" r="3.6"/>
<circle cx="407.4" cy="1081.5" r="3.6"/>
<circle cx="421.5" cy="1081.5" r="3.6"/>
<circle cx="431.9" cy="1076.8" r="3.6"/>
<circle cx="434.7" cy="1088.7" r="3.6"/>
<circle cx="397.9" cy="1091" r="3.6"/>
<circle cx="385.7" cy="1117" r="3.6"/>
<circle cx="396" cy="1107" r="3.6"/>
<circle cx="436.6" cy="1103.2" r="3.6"/>
<circle cx="443.2" cy="1105.1" r="3.6"/>
<circle cx="458.3" cy="1120.2" r="3.6"/>
<circle cx="452.6" cy="1125.8" r="3.6"/>
<circle cx="466.8" cy="1123" r="3.6"/>
<circle cx="464" cy="1130.6" r="3.6"/>
<circle cx="462.1" cy="1136.2" r="3.6"/>
<circle cx="460.2" cy="1141.9" r="3.6"/>
<circle cx="462.1" cy="1149.4" r="3.6"/>
<circle cx="464.9" cy="1160.8" r="3.6"/>
<circle cx="480.9" cy="1144.7" r="3.6"/>
<circle cx="507.4" cy="1126.8" r="3.6"/>
<circle cx="511.1" cy="1120.2" r="3.6"/>
<circle cx="503.6" cy="1131.5" r="3.6"/>
<circle cx="492.3" cy="1175.8" r="3.6"/>
<circle cx="498.9" cy="1190.9" r="3.6"/>
<circle cx="373.4" cy="1142.8" r="3.6"/>
<circle cx="374.3" cy="1159.8" r="3.6"/>
<circle cx="363" cy="1160.8" r="3.6"/>
<circle cx="351.7" cy="1168.3" r="3.6"/>
<circle cx="347" cy="1179.6" r="3.6"/>
<circle cx="341.3" cy="1190.9" r="3.6"/>
<circle cx="358.3" cy="1192.8" r="3.6"/>
<circle cx="367.7" cy="1185.3" r="3.6"/>
<circle cx="443.2" cy="1133.4" r="3.6"/>
<circle cx="440.4" cy="1123" r="3.6"/>
<circle cx="230" cy="1306" r="3.6"/>
<circle cx="240" cy="1303" r="3.6"/>
<circle cx="250" cy="1306" r="3.6"/>
<circle cx="520" cy="1298" r="3.6"/>
<circle cx="522" cy="1305" r="3.6"/>
<circle cx="515" cy="1280" r="3.6"/>
<circle cx="512" cy="1255" r="3.6"/>
</g>
<polygon points="262,1315 266.8,1312.9 286.6,1303 309.3,1291.7 329.1,1277.6 348.9,1254.9 363,1232.3 377.2,1204 384.7,1190 390.4,1175.8 397.9,1164.5 409.2,1158.9 424.3,1157 439.4,1160.8 452.6,1170.2 465.8,1177.7 470.6,1184.2 479.1,1204 484.7,1226.6 493.2,1243.6 496.1,1263.4 498.9,1283.2 501.7,1305.9 500,1315" fill="#cf7da8" fill-opacity="0.85" filter="url(#blur3)"/>
<polygon points="262,1315 266.8,1312.9 286.6,1303 309.3,1291.7 329.1,1277.6 348.9,1254.9 363,1232.3 377.2,1204 384.7,1190 390.4,1175.8 397.9,1164.5 409.2,1158.9 424.3,1157 439.4,1160.8 452.6,1170.2 465.8,1177.7 470.6,1184.2 479.1,1204 484.7,1226.6 493.2,1243.6 496.1,1263.4 498.9,1283.2 501.7,1305.9 500,1315" fill="#cf7da8" filter="url(#blur1)"/>
</g>
<line x1="315.3" y1="1310.8" x2="519" y2="1234.6" stroke="#000" stroke-width="6.6" stroke-linecap="butt"/>
<rect x="121.5" y="1004" width="413.5" height="318.8" fill="none" stroke="#1a1a1a" stroke-width="1.5"/>
<line x1="121.5" y1="1004" x2="121.5" y2="1322.8" stroke="#111" stroke-width="1.7" stroke-linecap="butt"/>
<line x1="535" y1="1004" x2="535" y2="1322.8" stroke="#111" stroke-width="1.9" stroke-linecap="butt"/>
<line x1="108.2" y1="1017.8" x2="121.2" y2="1017.8" stroke="#444" stroke-width="1.4" stroke-linecap="butt"/>
<text class="tk" transform="translate(94.3,1025.1) scale(1.12,1)" font-size="23" text-anchor="end">30</text>
<line x1="108.2" y1="1114.5" x2="121.2" y2="1114.5" stroke="#444" stroke-width="1.4" stroke-linecap="butt"/>
<text class="tk" transform="translate(94.3,1121.8) scale(1.12,1)" font-size="23" text-anchor="end">20</text>
<line x1="108.2" y1="1211.2" x2="121.2" y2="1211.2" stroke="#444" stroke-width="1.4" stroke-linecap="butt"/>
<text class="tk" transform="translate(94.3,1218.5) scale(1.12,1)" font-size="23" text-anchor="end">10</text>
<line x1="108.2" y1="1308" x2="121.2" y2="1308" stroke="#444" stroke-width="1.4" stroke-linecap="butt"/>
<text class="tk" transform="translate(94.3,1315.3) scale(1.12,1)" font-size="23" text-anchor="end">0</text>
<line x1="140.1" y1="1322.8" x2="140.1" y2="1335.8" stroke="#444" stroke-width="1.4" stroke-linecap="butt"/>
<text class="tk" transform="translate(137.7,1364.2) scale(1.14,1)" font-size="23" text-anchor="middle">0</text>
<line x1="282.4" y1="1322.8" x2="282.4" y2="1335.8" stroke="#444" stroke-width="1.4" stroke-linecap="butt"/>
<text class="tk" transform="translate(281.6,1364.2) scale(1.14,1)" font-size="23" text-anchor="middle">200</text>
<line x1="423.7" y1="1322.8" x2="423.7" y2="1335.8" stroke="#444" stroke-width="1.4" stroke-linecap="butt"/>
<text class="tk" transform="translate(424.7,1364.2) scale(1.14,1)" font-size="23" text-anchor="middle">400</text>
<rect x="640.5" y="1004.5" width="417.9" height="318.2" fill="none" stroke="#000" stroke-width="1.3"/>
<line x1="640.5" y1="1004.5" x2="640.5" y2="1322.7" stroke="#3a3a3a" stroke-width="1.5" stroke-linecap="butt"/>
<line x1="1058.4" y1="1004.5" x2="1058.4" y2="1322.7" stroke="#3a3a3a" stroke-width="1.7" stroke-linecap="butt"/>
<line x1="627.2" y1="1017.9" x2="640.2" y2="1017.9" stroke="#444" stroke-width="1.4" stroke-linecap="butt"/>
<text class="tk" transform="translate(615.9,1025.2) scale(1.12,1)" font-size="23" text-anchor="end">30</text>
<line x1="627.2" y1="1114.4" x2="640.2" y2="1114.4" stroke="#444" stroke-width="1.4" stroke-linecap="butt"/>
<text class="tk" transform="translate(615.9,1121.7) scale(1.12,1)" font-size="23" text-anchor="end">20</text>
<line x1="627.2" y1="1211.3" x2="640.2" y2="1211.3" stroke="#444" stroke-width="1.4" stroke-linecap="butt"/>
<text class="tk" transform="translate(615.9,1218.6) scale(1.12,1)" font-size="23" text-anchor="end">10</text>
<line x1="627.2" y1="1307.7" x2="640.2" y2="1307.7" stroke="#444" stroke-width="1.4" stroke-linecap="butt"/>
<text class="tk" transform="translate(615.9,1315) scale(1.12,1)" font-size="23" text-anchor="end">0</text>
<line x1="732" y1="1294.5" x2="732" y2="1288.7" stroke="#333333" stroke-width="1.8" stroke-linecap="butt"/>
<line x1="732" y1="1305.7" x2="732" y2="1309.4" stroke="#333333" stroke-width="1.8" stroke-linecap="butt"/>
<circle cx="732" cy="1280.4" r="2.3" fill="#5a5a5a" stroke="#333333" stroke-width="1"/>
<circle cx="749" cy="1289.2" r="2.3" fill="#5a5a5a" stroke="#333333" stroke-width="1"/>
<circle cx="749" cy="1301.1" r="2.3" fill="#5a5a5a" stroke="#333333" stroke-width="1"/>
<rect x="796.75" y="1270.65" width="5.5" height="34.6" fill="#333333" rx="2.75"/>
<circle cx="799.5" cy="1262.9" r="2.3" fill="#5a5a5a" stroke="#333333" stroke-width="1"/>
<circle cx="799.5" cy="1259.6" r="2.3" fill="#5a5a5a" stroke="#333333" stroke-width="1"/>
<circle cx="799.5" cy="1254.6" r="2.3" fill="#5a5a5a" stroke="#333333" stroke-width="1"/>
<circle cx="799.5" cy="1251" r="2.3" fill="#5a5a5a" stroke="#333333" stroke-width="1"/>
<circle cx="799.5" cy="1248" r="2.3" fill="#5a5a5a" stroke="#333333" stroke-width="1"/>
<circle cx="799.5" cy="1238" r="2.3" fill="#5a5a5a" stroke="#333333" stroke-width="1"/>
<circle cx="799.5" cy="1233" r="2.3" fill="#5a5a5a" stroke="#333333" stroke-width="1"/>
<line x1="816.5" y1="1301.6" x2="816.5" y2="1294.5" stroke="#333333" stroke-width="1.8" stroke-linecap="butt"/>
<circle cx="816.5" cy="1291.2" r="2.3" fill="#5a5a5a" stroke="#333333" stroke-width="1"/>
<circle cx="816.5" cy="1284.5" r="2.3" fill="#5a5a5a" stroke="#333333" stroke-width="1"/>
<rect x="830.75" y="1271.45" width="5.5" height="33.8" fill="#333333" rx="2.75"/>
<circle cx="833.5" cy="1258.8" r="2.3" fill="#5a5a5a" stroke="#333333" stroke-width="1"/>
<circle cx="833.5" cy="1256" r="2.3" fill="#5a5a5a" stroke="#333333" stroke-width="1"/>
<circle cx="833.5" cy="1253.8" r="2.3" fill="#5a5a5a" stroke="#333333" stroke-width="1"/>
<line x1="867" y1="1289.5" x2="867" y2="1273.7" stroke="#333333" stroke-width="1.8" stroke-linecap="butt"/>
<line x1="867" y1="1303.6" x2="867" y2="1309.8" stroke="#333333" stroke-width="1.8" stroke-linecap="butt"/>
<rect x="864.25" y="1190.85" width="5.5" height="85.1" fill="#333333" rx="2.75"/>
<circle cx="867" cy="1185" r="2.3" fill="#5a5a5a" stroke="#333333" stroke-width="1"/>
<circle cx="867" cy="1180" r="2.3" fill="#5a5a5a" stroke="#333333" stroke-width="1"/>
<circle cx="867" cy="1158" r="2.3" fill="#5a5a5a" stroke="#333333" stroke-width="1"/>
<circle cx="867" cy="1154" r="2.3" fill="#5a5a5a" stroke="#333333" stroke-width="1"/>
<circle cx="867" cy="1150" r="2.3" fill="#5a5a5a" stroke="#333333" stroke-width="1"/>
<circle cx="867" cy="1143" r="2.3" fill="#5a5a5a" stroke="#333333" stroke-width="1"/>
<circle cx="867" cy="1139" r="2.3" fill="#5a5a5a" stroke="#333333" stroke-width="1"/>
<line x1="884" y1="1288.2" x2="884" y2="1271.2" stroke="#333333" stroke-width="1.8" stroke-linecap="butt"/>
<line x1="884" y1="1303.6" x2="884" y2="1309.8" stroke="#333333" stroke-width="1.8" stroke-linecap="butt"/>
<rect x="881.25" y="1173.35" width="5.5" height="100.1" fill="#333333" rx="2.75"/>
<circle cx="884" cy="1169.8" r="2.3" fill="#5a5a5a" stroke="#333333" stroke-width="1"/>
<circle cx="884" cy="1165" r="2.3" fill="#5a5a5a" stroke="#333333" stroke-width="1"/>
<circle cx="884" cy="1160" r="2.3" fill="#5a5a5a" stroke="#333333" stroke-width="1"/>
<circle cx="884" cy="1155" r="2.3" fill="#5a5a5a" stroke="#333333" stroke-width="1"/>
<circle cx="884" cy="1149.8" r="2.3" fill="#5a5a5a" stroke="#333333" stroke-width="1"/>
<line x1="901" y1="1283.7" x2="901" y2="1260.4" stroke="#333333" stroke-width="1.8" stroke-linecap="butt"/>
<line x1="901" y1="1302" x2="901" y2="1309.8" stroke="#333333" stroke-width="1.8" stroke-linecap="butt"/>
<rect x="898.25" y="1154.25" width="5.5" height="108.4" fill="#333333" rx="2.75"/>
<circle cx="901" cy="1152.3" r="2.3" fill="#5a5a5a" stroke="#333333" stroke-width="1"/>
<circle cx="901" cy="1148" r="2.3" fill="#5a5a5a" stroke="#333333" stroke-width="1"/>
<circle cx="901" cy="1144" r="2.3" fill="#5a5a5a" stroke="#333333" stroke-width="1"/>
<line x1="934.5" y1="1262.6" x2="934.5" y2="1222.3" stroke="#333333" stroke-width="1.8" stroke-linecap="butt"/>
<line x1="934.5" y1="1291.1" x2="934.5" y2="1309.5" stroke="#333333" stroke-width="1.8" stroke-linecap="butt"/>
<rect x="931.75" y="1158.95" width="5.5" height="65.6" fill="#333333" rx="2.75"/>
<circle cx="934.5" cy="1154.4" r="2.3" fill="#5a5a5a" stroke="#333333" stroke-width="1"/>
<circle cx="934.5" cy="1150" r="2.3" fill="#5a5a5a" stroke="#333333" stroke-width="1"/>
<circle cx="934.5" cy="1145" r="2.3" fill="#5a5a5a" stroke="#333333" stroke-width="1"/>
<circle cx="934.5" cy="1140.8" r="2.3" fill="#5a5a5a" stroke="#333333" stroke-width="1"/>
<circle cx="934.5" cy="1125.3" r="2.3" fill="#5a5a5a" stroke="#333333" stroke-width="1"/>
<circle cx="934.5" cy="1121.4" r="2.3" fill="#5a5a5a" stroke="#333333" stroke-width="1"/>
<line x1="951.5" y1="1258.7" x2="951.5" y2="1221.3" stroke="#333333" stroke-width="1.8" stroke-linecap="butt"/>
<line x1="951.5" y1="1285.9" x2="951.5" y2="1309.5" stroke="#333333" stroke-width="1.8" stroke-linecap="butt"/>
<rect x="948.75" y="1084.25" width="5.5" height="139.3" fill="#333333" rx="2.75"/>
<circle cx="951.5" cy="1080.7" r="2.3" fill="#5a5a5a" stroke="#333333" stroke-width="1"/>
<circle cx="951.5" cy="1076" r="2.3" fill="#5a5a5a" stroke="#333333" stroke-width="1"/>
<circle cx="951.5" cy="1071" r="2.3" fill="#5a5a5a" stroke="#333333" stroke-width="1"/>
<circle cx="951.5" cy="1065" r="2.3" fill="#5a5a5a" stroke="#333333" stroke-width="1"/>
<circle cx="951.5" cy="1050" r="2.3" fill="#5a5a5a" stroke="#333333" stroke-width="1"/>
<line x1="968.5" y1="1257.6" x2="968.5" y2="1220.3" stroke="#333333" stroke-width="1.8" stroke-linecap="butt"/>
<line x1="968.5" y1="1284.3" x2="968.5" y2="1309.5" stroke="#333333" stroke-width="1.8" stroke-linecap="butt"/>
<rect x="965.75" y="1082.35" width="5.5" height="140.2" fill="#333333" rx="2.75"/>
<circle cx="968.5" cy="1079.8" r="2.3" fill="#5a5a5a" stroke="#333333" stroke-width="1"/>
<circle cx="968.5" cy="1066.2" r="2.3" fill="#5a5a5a" stroke="#333333" stroke-width="1"/>
<line x1="1002" y1="1264.5" x2="1002" y2="1213.5" stroke="#333333" stroke-width="1.8" stroke-linecap="butt"/>
<line x1="1002" y1="1300.2" x2="1002" y2="1309.5" stroke="#333333" stroke-width="1.8" stroke-linecap="butt"/>
<rect x="999.25" y="1173.45" width="5.5" height="42.3" fill="#333333" rx="2.75"/>
<circle cx="1002" cy="1156.3" r="2.3" fill="#5a5a5a" stroke="#333333" stroke-width="1"/>
<circle cx="1002" cy="1146.6" r="2.3" fill="#5a5a5a" stroke="#333333" stroke-width="1"/>
<circle cx="1002" cy="1143" r="2.3" fill="#5a5a5a" stroke="#333333" stroke-width="1"/>
<circle cx="1002" cy="1140.8" r="2.3" fill="#5a5a5a" stroke="#333333" stroke-width="1"/>
<circle cx="1002" cy="1130.2" r="2.3" fill="#5a5a5a" stroke="#333333" stroke-width="1"/>
<circle cx="1002" cy="1117.2" r="2.3" fill="#5a5a5a" stroke="#333333" stroke-width="1"/>
<line x1="1019" y1="1245.2" x2="1019" y2="1219.4" stroke="#333333" stroke-width="1.8" stroke-linecap="butt"/>
<line x1="1019" y1="1265.9" x2="1019" y2="1294" stroke="#333333" stroke-width="1.8" stroke-linecap="butt"/>
<rect x="1016.25" y="1157.95" width="5.5" height="63.7" fill="#333333" rx="2.75"/>
<circle cx="1019" cy="1146.6" r="2.3" fill="#5a5a5a" stroke="#333333" stroke-width="1"/>
<circle cx="1019" cy="1143" r="2.3" fill="#5a5a5a" stroke="#333333" stroke-width="1"/>
<circle cx="1019" cy="1140" r="2.3" fill="#5a5a5a" stroke="#333333" stroke-width="1"/>
<circle cx="1019" cy="1115.2" r="2.3" fill="#5a5a5a" stroke="#333333" stroke-width="1"/>
<circle cx="1019" cy="1296" r="2.3" fill="#5a5a5a" stroke="#333333" stroke-width="1"/>
<circle cx="1019" cy="1298" r="2.3" fill="#5a5a5a" stroke="#333333" stroke-width="1"/>
<circle cx="1019" cy="1308.6" r="2.3" fill="#5a5a5a" stroke="#333333" stroke-width="1"/>
<line x1="1036" y1="1265.5" x2="1036" y2="1227.1" stroke="#333333" stroke-width="1.8" stroke-linecap="butt"/>
<line x1="1036" y1="1293" x2="1036" y2="1309.5" stroke="#333333" stroke-width="1.8" stroke-linecap="butt"/>
<rect x="1033.25" y="1207.75" width="5.5" height="21.6" fill="#333333" rx="2.75"/>
<circle cx="1036" cy="1205" r="2.3" fill="#5a5a5a" stroke="#333333" stroke-width="1"/>
<circle cx="1036" cy="1200" r="2.3" fill="#5a5a5a" stroke="#333333" stroke-width="1"/>
<circle cx="1036" cy="1195" r="2.3" fill="#5a5a5a" stroke="#333333" stroke-width="1"/>
<circle cx="1036" cy="1191.2" r="2.3" fill="#5a5a5a" stroke="#333333" stroke-width="1"/>
<circle cx="1036" cy="1179.6" r="2.3" fill="#5a5a5a" stroke="#333333" stroke-width="1"/>
<rect x="656.9" y="1294.9" width="15.2" height="11" fill="#a57bba" stroke="#333333" stroke-width="2.2"/>
<line x1="656.9" y1="1303.4" x2="672.1" y2="1303.4" stroke="#333333" stroke-width="5.5" stroke-linecap="butt"/>
<rect x="671.9" y="1293.8" width="19.2" height="6.5" fill="#333333"/>
<rect x="688.9" y="1298.9" width="19.2" height="5.6" fill="#333333"/>
<rect x="724.4" y="1295.4" width="15.2" height="9.4" fill="#a57bba" stroke="#333333" stroke-width="2.2"/>
<line x1="724.4" y1="1298.6" x2="739.6" y2="1298.6" stroke="#333333" stroke-width="5.6" stroke-linecap="butt"/>
<rect x="739.4" y="1290.9" width="19.2" height="7" fill="#333333"/>
<rect x="756.4" y="1281.9" width="19.2" height="6" fill="#333333"/>
<rect x="789.9" y="1302.5" width="19.2" height="8.1" fill="#333333"/>
<rect x="806.9" y="1300.5" width="19.2" height="10.1" fill="#333333"/>
<line x1="809.6" y1="1304" x2="823.4" y2="1304" stroke="#62b2b6" stroke-width="1.3" stroke-linecap="butt"/>
<rect x="823.9" y="1302.5" width="19.2" height="8.1" fill="#333333"/>
<rect x="859.4" y="1290.4" width="15.2" height="12.3" fill="#a57bba" stroke="#333333" stroke-width="2.2"/>
<line x1="859.4" y1="1297.5" x2="874.6" y2="1297.5" stroke="#333333" stroke-width="4" stroke-linecap="butt"/>
<rect x="876.4" y="1289.1" width="15.2" height="13.6" fill="#62b2b6" stroke="#333333" stroke-width="2.2"/>
<line x1="876.4" y1="1298" x2="891.6" y2="1298" stroke="#333333" stroke-width="4" stroke-linecap="butt"/>
<rect x="893.4" y="1284.6" width="15.2" height="16.5" fill="#e1e168" stroke="#333333" stroke-width="2.2"/>
<line x1="893.4" y1="1294.5" x2="908.6" y2="1294.5" stroke="#333333" stroke-width="4" stroke-linecap="butt"/>
<rect x="926.9" y="1263.5" width="15.2" height="26.7" fill="#a57bba" stroke="#333333" stroke-width="2.2"/>
<line x1="926.9" y1="1278.1" x2="942.1" y2="1278.1" stroke="#333333" stroke-width="4" stroke-linecap="butt"/>
<rect x="943.9" y="1259.6" width="15.2" height="25.4" fill="#62b2b6" stroke="#333333" stroke-width="2.2"/>
<line x1="943.9" y1="1273.7" x2="959.1" y2="1273.7" stroke="#333333" stroke-width="4" stroke-linecap="butt"/>
<rect x="960.9" y="1258.5" width="15.2" height="24.9" fill="#e1e168" stroke="#333333" stroke-width="2.2"/>
<line x1="960.9" y1="1271.7" x2="976.1" y2="1271.7" stroke="#333333" stroke-width="4" stroke-linecap="butt"/>
<rect x="994.4" y="1265.4" width="15.2" height="33.9" fill="#a57bba" stroke="#333333" stroke-width="2.2"/>
<line x1="994.4" y1="1287.2" x2="1009.6" y2="1287.2" stroke="#333333" stroke-width="4" stroke-linecap="butt"/>
<rect x="1011.4" y="1246.1" width="15.2" height="18.9" fill="#62b2b6" stroke="#333333" stroke-width="2.2"/>
<line x1="1011.4" y1="1255.6" x2="1026.6" y2="1255.6" stroke="#333333" stroke-width="4" stroke-linecap="butt"/>
<rect x="1028.4" y="1266.4" width="15.2" height="25.7" fill="#e1e168" stroke="#333333" stroke-width="2.2"/>
<line x1="1028.4" y1="1283.4" x2="1043.6" y2="1283.4" stroke="#333333" stroke-width="4" stroke-linecap="butt"/>
<line x1="681.5" y1="1322.5" x2="681.5" y2="1335" stroke="#333333" stroke-width="1.4" stroke-linecap="butt"/>
<text class="tk" transform="translate(688.1,1347.6) rotate(-90) scale(1.0,1)" font-size="23" text-anchor="end">&lt;90</text>
<line x1="749" y1="1322.5" x2="749" y2="1335" stroke="#333333" stroke-width="1.4" stroke-linecap="butt"/>
<text class="tk" transform="translate(755.6,1347.6) rotate(-90) scale(1.024,1)" font-size="23" text-anchor="end">90–180</text>
<line x1="816.5" y1="1322.5" x2="816.5" y2="1335" stroke="#333333" stroke-width="1.4" stroke-linecap="butt"/>
<text class="tk" transform="translate(823.1,1347.6) rotate(-90) scale(1.02,1)" font-size="23" text-anchor="end">180–270</text>
<line x1="884" y1="1322.5" x2="884" y2="1335" stroke="#333333" stroke-width="1.4" stroke-linecap="butt"/>
<text class="tk" transform="translate(890.6,1347.6) rotate(-90) scale(1.06,1)" font-size="23" text-anchor="end">270–360</text>
<line x1="951.5" y1="1322.5" x2="951.5" y2="1335" stroke="#333333" stroke-width="1.4" stroke-linecap="butt"/>
<text class="tk" transform="translate(958.1,1347.6) rotate(-90) scale(1.097,1)" font-size="23" text-anchor="end">360–450</text>
<line x1="1019" y1="1322.5" x2="1019" y2="1335" stroke="#333333" stroke-width="1.4" stroke-linecap="butt"/>
<text class="tk" transform="translate(1025.6,1347.6) rotate(-90) scale(1.024,1)" font-size="23" text-anchor="end">&gt;450</text>
<text id="La" transform="translate(16.3,29.2) scale(0.8435,1)" x="0" y="0" font-size="40" font-weight="bold" stroke="#000" stroke-width="1.3">a</text>
<text id="Lb" transform="translate(605.2,29.2) scale(0.8798,1)" x="0" y="0" font-size="40" font-weight="bold" stroke="#000" stroke-width="1.3">b</text>
<text id="Lc" transform="translate(2,509.3) scale(0.8899,1)" x="0" y="0" font-size="40" font-weight="bold" stroke="#000" stroke-width="1.3">c</text>
<text id="Ld" transform="translate(589.5,509.6) scale(0.9248,1)" x="0" y="0" font-size="40" font-weight="bold" stroke="#000" stroke-width="1.3">d</text>
<text id="Le" transform="translate(7.1,988.3) scale(0.9573,1)" x="0" y="0" font-size="40" font-weight="bold" stroke="#000" stroke-width="1.3">e</text>
<text id="Lf" transform="translate(588.8,987.4) scale(1.0154,1)" x="0" y="0" font-size="38" font-weight="bold" stroke="#000" stroke-width="1.3">f</text>
<text id="YTa" transform="translate(51.1,341.7) rotate(-90) scale(1.0044,1)" x="0" y="0" font-size="26.8">NEE (µmol CO<tspan font-size="16.88" dy="8.04">2</tspan><tspan dy="-8.04"> m</tspan><tspan font-size="16.88" dy="-13.40">−2</tspan><tspan dy="13.40"> s</tspan><tspan font-size="16.88" dy="-13.40">−1</tspan><tspan dy="13.40">)</tspan></text>
<text id="YTc" transform="translate(36.6,825) rotate(-90) scale(1.0061,1)" x="0" y="0" font-size="26.8">GPP (µmol CO<tspan font-size="16.88" dy="8.04">2</tspan><tspan dy="-8.04"> m</tspan><tspan font-size="16.88" dy="-13.40">−2</tspan><tspan dy="13.40"> s</tspan><tspan font-size="16.88" dy="-13.40">−1</tspan><tspan dy="13.40">)</tspan></text>
<text id="YTe" transform="translate(41.1,1294.7) rotate(-90) scale(1.0239,1)" x="0" y="0" font-size="26.8"><tspan font-style="italic">R</tspan><tspan font-size="16.88" dy="7.50">e</tspan><tspan dy="-7.50"> (µmol CO</tspan><tspan font-size="16.88" dy="8.04">2</tspan><tspan dy="-8.04"> m</tspan><tspan font-size="16.88" dy="-13.40">−2</tspan><tspan dy="13.40"> s</tspan><tspan font-size="16.88" dy="-13.40">−1</tspan><tspan dy="13.40">)</tspan></text>
<text id="XTa" transform="translate(198.2,446.7) scale(0.9780,1)" x="0" y="0" font-size="26.5"><tspan font-style="italic">T</tspan><tspan font-size="17.49" dy="-11.93" dx="1.60">4</tspan><tspan dy="11.93" dx="0.80" font-style="italic">σ</tspan> e<tspan font-size="17.49" dy="-12.46">−SW/(</tspan><tspan font-size="17.49" font-style="italic">σT</tspan><tspan font-size="14.04" dy="-10.60" dx="1.20">4</tspan><tspan font-size="17.49" dy="10.60">)</tspan><tspan dy="12.46"> (J m</tspan><tspan font-size="17.49" dy="-11.93">−2</tspan><tspan dy="11.93"> s</tspan><tspan font-size="17.49" dy="-11.93">−1</tspan><tspan dy="11.93">)</tspan></text>
<text id="XTc" transform="translate(191.8,926.9) scale(0.9780,1)" x="0" y="0" font-size="26.5"><tspan font-style="italic">T</tspan><tspan font-size="17.49" dy="-11.93" dx="1.60">4</tspan><tspan dy="11.93" dx="0.80" font-style="italic">σ</tspan> e<tspan font-size="17.49" dy="-12.46">−SW/(</tspan><tspan font-size="17.49" font-style="italic">σT</tspan><tspan font-size="14.04" dy="-10.60" dx="1.20">4</tspan><tspan font-size="17.49" dy="10.60">)</tspan><tspan dy="12.46"> (J m</tspan><tspan font-size="17.49" dy="-11.93">−2</tspan><tspan dy="11.93"> s</tspan><tspan font-size="17.49" dy="-11.93">−1</tspan><tspan dy="11.93">)</tspan></text>
<text id="XTe" transform="translate(191,1410.4) scale(0.9794,1)" x="0" y="0" font-size="26.5"><tspan font-style="italic">T</tspan><tspan font-size="17.49" dy="-11.93" dx="1.60">4</tspan><tspan dy="11.93" dx="0.80" font-style="italic">σ</tspan> e<tspan font-size="17.49" dy="-12.46">−SW/(</tspan><tspan font-size="17.49" font-style="italic">σT</tspan><tspan font-size="14.04" dy="-10.60" dx="1.20">4</tspan><tspan font-size="17.49" dy="10.60">)</tspan><tspan dy="12.46"> (J m</tspan><tspan font-size="17.49" dy="-11.93">−2</tspan><tspan dy="11.93"> s</tspan><tspan font-size="17.49" dy="-11.93">−1</tspan><tspan dy="11.93">)</tspan></text>
<text id="Aa1_0" transform="translate(254,311.4) scale(0.8164,1)" x="0" y="0" font-size="20"><tspan font-style="italic">R</tspan></text>
<text id="Aa1_1" transform="translate(267.3,302.5) scale(1.1918,1)" x="0" y="0" font-size="11">2</text>
<text id="Aa1_2" transform="translate(275.6,315.4) scale(1.0742,1)" x="0" y="0" font-size="13.3">m</text>
<text id="Aa1_3" transform="translate(292.8,311.4) scale(0.8128,1)" x="0" y="0" font-size="20">=</text>
<text id="Aa1_4" transform="translate(310.2,311.4) scale(1.1976,1)" x="0" y="0" font-size="20">0.462,</text>
<text id="Aa1_5" transform="translate(385.5,311.4) scale(0.8234,1)" x="0" y="0" font-size="20"><tspan font-style="italic">R</tspan></text>
<text id="Aa1_6" transform="translate(398.8,302.5) scale(1.2898,1)" x="0" y="0" font-size="11">2</text>
<text id="Aa1_7" transform="translate(408,315.4) scale(1.1286,1)" x="0" y="0" font-size="13.3">c</text>
<text id="Aa1_8" transform="translate(420.4,311.4) scale(0.7872,1)" x="0" y="0" font-size="20">=</text>
<text id="Aa1_9" transform="translate(437.5,311.4) scale(1.2404,1)" x="0" y="0" font-size="20">0.492</text>
<text id="Aa2_0" transform="translate(254,338.2) scale(0.8818,1)" x="0" y="0" font-size="20"><tspan font-style="italic">k</tspan></text>
<text id="Aa2_1" transform="translate(270.6,338.2) scale(0.7701,1)" x="0" y="0" font-size="20">=</text>
<text id="Aa2_2" transform="translate(287,338.2) scale(1.2354,1)" x="0" y="0" font-size="20">0.042,</text>
<text id="Aa2_3" transform="translate(366.2,338.2) scale(0.9079,1)" x="0" y="0" font-size="20"><tspan font-style="italic">n</tspan></text>
<text id="Aa2_4" transform="translate(382.1,338.2) scale(0.7872,1)" x="0" y="0" font-size="20">=</text>
<text id="Aa2_5" transform="translate(400.6,338.2) scale(1.2137,1)" x="0" y="0" font-size="20">10,069,905</text>
<text id="Ac1_0" transform="translate(256.6,551.2) scale(0.8579,1)" x="0" y="0" font-size="20"><tspan font-style="italic">R</tspan></text>
<text id="Ac1_1" transform="translate(270.3,542.3) scale(1.1265,1)" x="0" y="0" font-size="11">2</text>
<text id="Ac1_2" transform="translate(277.7,555.2) scale(1.1193,1)" x="0" y="0" font-size="13.3">m</text>
<text id="Ac1_3" transform="translate(295.4,551.2) scale(0.8214,1)" x="0" y="0" font-size="20">=</text>
<text id="Ac1_4" transform="translate(312.1,551.2) scale(1.2336,1)" x="0" y="0" font-size="20">0.305,</text>
<text id="Ac1_5" transform="translate(388.7,551.2) scale(0.8579,1)" x="0" y="0" font-size="20"><tspan font-style="italic">R</tspan></text>
<text id="Ac1_6" transform="translate(402.6,542.3) scale(1.2571,1)" x="0" y="0" font-size="11">2</text>
<text id="Ac1_7" transform="translate(411.6,555.2) scale(1.0571,1)" x="0" y="0" font-size="13.3">c</text>
<text id="Ac1_8" transform="translate(423,551.2) scale(0.7957,1)" x="0" y="0" font-size="20">=</text>
<text id="Ac1_9" transform="translate(440.2,551.2) scale(1.2025,1)" x="0" y="0" font-size="20">0.426</text>
<text id="Ac2_0" transform="translate(256.6,577.3) scale(0.9636,1)" x="0" y="0" font-size="20"><tspan font-style="italic">k</tspan></text>
<text id="Ac2_1" transform="translate(273.2,577.3) scale(0.7701,1)" x="0" y="0" font-size="20">=</text>
<text id="Ac2_2" transform="translate(289.6,577.3) scale(1.2363,1)" x="0" y="0" font-size="20">−0.045,</text>
<text id="Ac2_3" transform="translate(379.4,577.3) scale(0.9528,1)" x="0" y="0" font-size="20"><tspan font-style="italic">n</tspan></text>
<text id="Ac2_4" transform="translate(396.6,577.3) scale(0.7872,1)" x="0" y="0" font-size="20">=</text>
<text id="Ac2_5" transform="translate(415.1,577.3) scale(1.2025,1)" x="0" y="0" font-size="20">5,340,294</text>
<text id="Ae1_0" transform="translate(140,1034.8) scale(0.8649,1)" x="0" y="0" font-size="20"><tspan font-style="italic">R</tspan></text>
<text id="Ae1_1" transform="translate(153.8,1025.9) scale(1.2408,1)" x="0" y="0" font-size="11">2</text>
<text id="Ae1_2" transform="translate(162.5,1038.8) scale(1.0742,1)" x="0" y="0" font-size="13.3">m</text>
<text id="Ae1_3" transform="translate(179.7,1034.8) scale(0.8299,1)" x="0" y="0" font-size="20">=</text>
<text id="Ae1_4" transform="translate(196,1034.8) scale(1.1401,1)" x="0" y="0" font-size="20">0.415,</text>
<text id="Ae1_5" transform="translate(267.9,1034.8) scale(0.8372,1)" x="0" y="0" font-size="20"><tspan font-style="italic">R</tspan></text>
<text id="Ae1_6" transform="translate(281.4,1025.9) scale(1.2082,1)" x="0" y="0" font-size="11">2</text>
<text id="Ae1_7" transform="translate(289.8,1038.8) scale(1.0143,1)" x="0" y="0" font-size="13.3">c</text>
<text id="Ae1_8" transform="translate(301.7,1034.8) scale(0.7872,1)" x="0" y="0" font-size="20">=</text>
<text id="Ae1_9" transform="translate(318,1034.8) scale(1.2045,1)" x="0" y="0" font-size="20">0.679</text>
<text id="Ae2_0" transform="translate(140,1062.6) scale(1.0091,1)" x="0" y="0" font-size="20"><tspan font-style="italic">k</tspan></text>
<text id="Ae2_1" transform="translate(157.7,1062.6) scale(0.7444,1)" x="0" y="0" font-size="20">=</text>
<text id="Ae2_2" transform="translate(174.4,1062.6) scale(1.2444,1)" x="0" y="0" font-size="20">0.036,</text>
<text id="Ae2_3" transform="translate(252.8,1062.6) scale(0.9528,1)" x="0" y="0" font-size="20"><tspan font-style="italic">n</tspan></text>
<text id="Ae2_4" transform="translate(269.5,1062.6) scale(0.7187,1)" x="0" y="0" font-size="20">=</text>
<text id="Ae2_5" transform="translate(287.2,1062.6) scale(1.0979,1)" x="0" y="0" font-size="20">4,181,247</text>
<text id="LGt" transform="translate(883.3,566.9) scale(1.0707,1)" x="0" y="0" font-size="22">ALAN intensity</text>
<text id="LG1" transform="translate(919.1,597.4) scale(1.0501,1)" x="0" y="0" font-size="22">Low</text>
<text id="LG2" transform="translate(919.1,626.6) scale(1.0760,1)" x="0" y="0" font-size="22">Medium</text>
<text id="LG3" transform="translate(919.1,655.5) scale(1.0630,1)" x="0" y="0" font-size="22">High</text></svg></body></html>
